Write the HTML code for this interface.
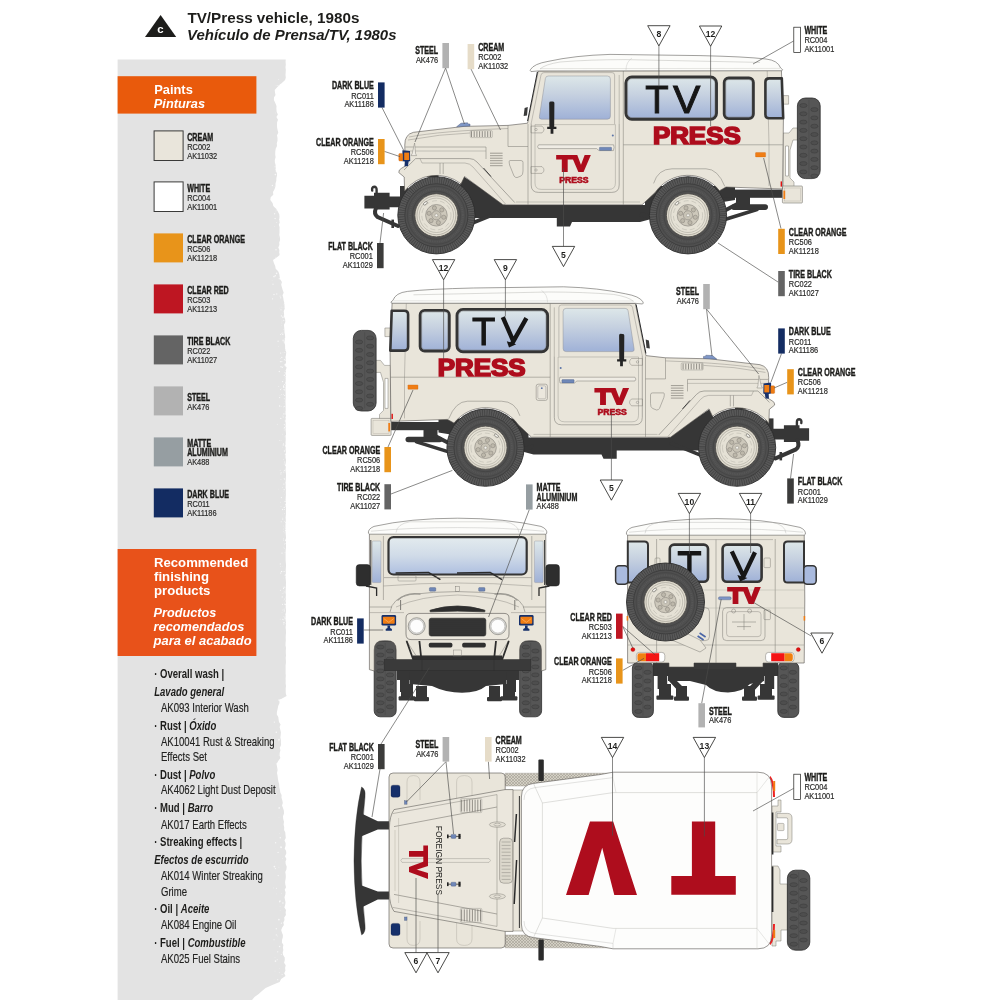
<!DOCTYPE html>
<html><head><meta charset="utf-8"><title>TV/Press vehicle, 1980s</title>
<style>html,body{margin:0;padding:0;background:#fff;}svg{display:block;will-change:transform;}text{font-family:"Liberation Sans", sans-serif;}</style></head><body>
<svg width="1000" height="1000" viewBox="0 0 1000 1000">
<defs>
<linearGradient id="glass" x1="0" y1="0" x2="0" y2="1"><stop offset="0" stop-color="#dde7e9"/><stop offset="0.42" stop-color="#c6d1e0"/><stop offset="1" stop-color="#9fb1d7"/></linearGradient>
<pattern id="tread" width="3" height="3" patternUnits="userSpaceOnUse"><rect width="3" height="3" fill="#d3cfc4"/><path d="M0,0 L3,3 M3,0 L0,3" stroke="#9a968c" stroke-width="0.5"/></pattern>
<pattern id="mesh" width="2" height="2" patternUnits="userSpaceOnUse"><rect width="2" height="2" fill="#2e2e2e"/><circle cx="1" cy="1" r="0.5" fill="#4a4a4a"/></pattern>
<linearGradient id="glassw" x1="0" y1="0" x2="0" y2="1"><stop offset="0" stop-color="#e3ebee"/><stop offset="0.5" stop-color="#d0dbe8"/><stop offset="1" stop-color="#aebfe0"/></linearGradient>
</defs>
<rect width="1000" height="1000" fill="#fff"/>
<path d="M117.6,59.5 L286,59.5 L285.7,59.5 L285.6,62.1 L285.8,64.6 L285.5,67.2 L285.8,69.8 L285.7,72.3 L285.5,74.9 L285.8,77.4 L285.1,80.0 L280.8,84.0 L277.4,87.0 L274.7,90.0 L275.0,92.5 L275.5,95.0 L274.0,97.5 L273.9,100.0 L275.3,103.0 L276.5,106.0 L276.4,109.0 L276.7,112.0 L277.9,114.6 L276.4,117.1 L278.0,119.7 L277.1,122.3 L277.0,124.9 L277.1,127.4 L277.6,130.0 L278.3,132.7 L277.0,135.3 L277.5,138.0 L277.5,140.7 L276.8,143.3 L277.0,146.0 L275.7,148.8 L275.3,151.6 L275.2,154.4 L275.6,157.2 L274.8,160.0 L274.9,162.6 L275.6,165.1 L275.7,167.7 L275.7,170.3 L276.9,172.9 L277.0,175.4 L276.4,178.0 L276.3,180.8 L275.5,183.6 L275.5,186.4 L274.5,189.2 L273.0,192.0 L273.3,194.7 L270.7,197.3 L270.3,200.0 L272.6,203.0 L273.3,206.0 L276.4,209.0 L278.1,212.0 L279.3,214.6 L279.5,217.1 L279.2,219.7 L279.8,222.2 L278.8,224.8 L279.6,227.3 L279.5,229.9 L279.5,232.4 L279.3,235.0 L279.9,237.5 L280.1,240.0 L279.2,242.5 L279.4,245.0 L278.3,247.5 L279.4,250.0 L279.2,252.5 L279.8,255.0 L276.7,257.5 L273.0,260.0 L273.9,263.0 L275.2,266.0 L275.7,268.7 L278.2,271.3 L279.3,274.0 L279.7,276.7 L280.1,279.3 L281.9,282.0 L281.2,284.7 L281.9,287.3 L282.7,290.0 L283.7,292.7 L282.5,295.3 L283.3,298.0 L283.7,300.7 L284.4,303.3 L284.5,306.0 L284.7,308.7 L283.7,311.3 L284.1,314.0 L284.1,316.7 L285.1,319.3 L285.4,322.0 L284.0,324.7 L284.2,327.3 L284.4,330.0 L284.5,332.5 L285.0,335.0 L285.2,337.5 L284.7,340.0 L284.3,342.5 L285.1,345.0 L285.1,347.5 L285.5,350.0 L286.3,352.5 L285.9,355.0 L285.6,357.5 L285.9,360.0 L286.0,362.5 L285.0,365.0 L286.6,367.5 L285.9,370.0 L285.9,372.5 L285.9,375.0 L285.7,377.5 L285.7,380.0 L285.6,382.5 L285.8,385.0 L285.5,387.5 L285.5,390.0 L285.6,392.5 L285.6,395.0 L285.7,397.5 L285.5,400.0 L285.5,402.5 L285.6,405.0 L285.6,407.5 L285.7,410.0 L285.5,412.5 L285.9,415.0 L285.8,417.5 L285.6,420.0 L285.6,422.5 L285.7,425.0 L285.7,427.5 L285.6,430.0 L285.9,432.5 L286.0,435.0 L285.7,437.5 L285.7,440.0 L285.5,442.5 L285.6,445.0 L285.7,447.5 L285.6,450.0 L285.9,452.5 L285.6,455.0 L285.5,457.5 L286.0,460.0 L285.8,462.5 L285.6,465.0 L285.8,467.5 L285.5,470.0 L285.8,472.5 L286.0,475.0 L285.9,477.5 L285.8,480.0 L285.6,482.5 L285.7,485.0 L285.6,487.5 L285.9,490.0 L285.8,492.5 L285.9,495.0 L285.7,497.5 L285.6,500.0 L285.9,502.5 L286.0,505.0 L285.9,507.5 L285.9,510.0 L285.9,512.5 L285.9,515.0 L285.6,517.5 L285.8,520.0 L285.7,522.5 L285.5,525.0 L285.5,527.5 L285.6,530.0 L285.6,532.5 L285.8,535.0 L286.0,537.5 L285.7,540.0 L286.0,542.5 L286.0,545.0 L286.0,547.5 L285.7,550.0 L285.6,552.5 L285.6,555.0 L285.6,557.5 L285.6,560.0 L285.8,562.5 L286.0,565.0 L285.9,567.5 L285.7,570.0 L285.8,572.5 L285.9,575.0 L285.5,577.5 L285.8,580.0 L286.0,582.5 L285.9,585.0 L285.9,587.5 L285.7,590.0 L285.6,592.5 L285.9,595.0 L285.7,597.5 L285.9,600.0 L286.0,602.5 L285.7,605.0 L285.7,607.5 L286.0,610.0 L285.9,612.5 L285.6,615.0 L285.6,617.5 L285.6,620.0 L286.0,622.5 L285.9,625.1 L285.6,627.6 L285.9,630.1 L286.0,632.7 L285.8,635.2 L285.7,637.7 L285.8,640.3 L285.6,642.8 L285.5,645.3 L286.0,647.9 L285.8,650.4 L285.8,652.9 L286.0,655.5 L285.7,658.0 L285.9,660.5 L285.9,663.1 L285.6,665.6 L285.6,668.1 L285.6,670.7 L285.6,673.2 L285.8,675.7 L285.6,678.3 L285.7,680.8 L285.6,683.3 L286.0,685.9 L285.7,688.4 L285.7,690.9 L285.8,693.5 L286.6,696.0 L279.3,700.0 L279.5,703.0 L278.2,706.0 L277.6,709.0 L276.9,712.0 L276.8,714.5 L278.3,717.0 L278.6,719.5 L279.0,722.0 L280.6,724.6 L279.6,727.1 L280.3,729.7 L280.9,732.3 L280.7,734.9 L280.4,737.4 L280.9,740.0 L280.9,742.6 L281.1,745.1 L279.8,747.7 L280.4,750.3 L279.7,752.9 L279.6,755.4 L280.4,758.0 L278.2,761.0 L276.5,764.0 L277.1,767.0 L277.6,770.0 L277.0,773.0 L277.6,776.0 L277.9,778.8 L278.4,781.6 L279.2,784.4 L279.3,787.2 L280.0,790.0 L280.3,792.6 L281.6,795.1 L281.5,797.7 L282.3,800.3 L282.8,802.9 L282.0,805.4 L283.0,808.0 L283.9,810.8 L284.0,813.5 L283.0,816.2 L283.2,819.0 L284.0,821.8 L283.6,824.5 L284.2,827.2 L284.1,830.0 L285.3,832.6 L285.5,835.2 L285.8,837.9 L284.5,840.5 L285.6,843.1 L285.6,845.8 L284.7,848.4 L286.1,851.0 L286.3,853.6 L285.0,856.2 L286.4,858.9 L285.5,861.5 L285.7,864.1 L286.7,866.8 L286.4,869.4 L285.3,872.0 L285.7,874.5 L285.8,877.1 L285.5,879.6 L285.1,882.1 L285.3,884.6 L286.0,887.2 L284.7,889.7 L285.6,892.2 L285.3,894.7 L284.5,897.3 L285.0,899.8 L285.5,902.3 L285.2,904.8 L284.4,907.4 L286.0,909.9 L285.6,912.4 L285.9,914.9 L284.2,917.5 L284.5,920.0 L283.3,922.5 L283.9,925.0 L282.2,927.5 L281.2,930.0 L281.9,932.5 L282.9,935.0 L282.8,937.5 L282.0,940.0 L281.9,942.5 L283.4,945.0 L282.9,947.5 L283.3,950.0 L282.7,952.5 L283.1,955.0 L284.7,957.5 L284.8,960.0 L284.1,962.7 L285.7,965.3 L285.1,968.0 L285.4,970.7 L284.2,973.3 L285.5,976.0 L281.1,979.0 L279.6,982.0 L272.3,985.0 L265.6,988.0 L262.0,991.0 L258.7,994.0 L254.5,997.0 L252.0,1000.0 L117.6,1000 Z" fill="#e3e3e3"/>
<circle cx="283.7" cy="342.0" r="0.30" fill="#fff" opacity="0.75"/>
<circle cx="285.6" cy="352.5" r="0.27" fill="#fff" opacity="0.75"/>
<circle cx="285.0" cy="365.6" r="0.59" fill="#fff" opacity="0.75"/>
<circle cx="283.5" cy="394.2" r="0.48" fill="#fff" opacity="0.75"/>
<circle cx="285.6" cy="357.8" r="0.36" fill="#fff" opacity="0.75"/>
<circle cx="285.5" cy="305.0" r="0.58" fill="#fff" opacity="0.75"/>
<circle cx="284.7" cy="479.1" r="0.67" fill="#fff" opacity="0.75"/>
<circle cx="282.6" cy="334.5" r="0.62" fill="#fff" opacity="0.75"/>
<circle cx="279.9" cy="440.5" r="0.43" fill="#fff" opacity="0.75"/>
<circle cx="285.8" cy="464.7" r="0.56" fill="#fff" opacity="0.75"/>
<circle cx="282.7" cy="619.3" r="0.57" fill="#fff" opacity="0.75"/>
<circle cx="281.0" cy="506.7" r="0.43" fill="#fff" opacity="0.75"/>
<circle cx="284.4" cy="413.0" r="0.28" fill="#fff" opacity="0.75"/>
<circle cx="285.4" cy="540.8" r="0.37" fill="#fff" opacity="0.75"/>
<circle cx="280.7" cy="353.1" r="0.64" fill="#fff" opacity="0.75"/>
<circle cx="282.9" cy="517.9" r="0.38" fill="#fff" opacity="0.75"/>
<circle cx="285.1" cy="378.7" r="0.32" fill="#fff" opacity="0.75"/>
<circle cx="282.6" cy="444.9" r="0.37" fill="#fff" opacity="0.75"/>
<circle cx="282.0" cy="612.6" r="0.36" fill="#fff" opacity="0.75"/>
<circle cx="285.3" cy="613.8" r="0.39" fill="#fff" opacity="0.75"/>
<circle cx="282.9" cy="415.9" r="0.46" fill="#fff" opacity="0.75"/>
<circle cx="286.0" cy="463.4" r="0.34" fill="#fff" opacity="0.75"/>
<circle cx="283.5" cy="464.0" r="0.29" fill="#fff" opacity="0.75"/>
<circle cx="285.9" cy="429.8" r="0.27" fill="#fff" opacity="0.75"/>
<circle cx="285.2" cy="307.3" r="0.51" fill="#fff" opacity="0.75"/>
<circle cx="283.8" cy="472.0" r="0.59" fill="#fff" opacity="0.75"/>
<circle cx="284.6" cy="513.7" r="0.43" fill="#fff" opacity="0.75"/>
<circle cx="279.6" cy="406.0" r="0.69" fill="#fff" opacity="0.75"/>
<circle cx="285.3" cy="348.6" r="0.27" fill="#fff" opacity="0.75"/>
<circle cx="281.5" cy="571.5" r="0.65" fill="#fff" opacity="0.75"/>
<circle cx="285.4" cy="503.9" r="0.31" fill="#fff" opacity="0.75"/>
<circle cx="280.2" cy="470.2" r="0.48" fill="#fff" opacity="0.75"/>
<circle cx="284.0" cy="571.4" r="0.51" fill="#fff" opacity="0.75"/>
<circle cx="280.4" cy="590.2" r="0.56" fill="#fff" opacity="0.75"/>
<circle cx="285.9" cy="525.3" r="0.31" fill="#fff" opacity="0.75"/>
<circle cx="285.2" cy="417.2" r="0.30" fill="#fff" opacity="0.75"/>
<circle cx="281.8" cy="571.6" r="0.53" fill="#fff" opacity="0.75"/>
<circle cx="284.4" cy="521.2" r="0.47" fill="#fff" opacity="0.75"/>
<circle cx="284.4" cy="301.1" r="0.48" fill="#fff" opacity="0.75"/>
<circle cx="280.9" cy="473.9" r="0.55" fill="#fff" opacity="0.75"/>
<circle cx="285.8" cy="321.5" r="0.28" fill="#fff" opacity="0.75"/>
<circle cx="283.6" cy="386.3" r="0.58" fill="#fff" opacity="0.75"/>
<circle cx="285.4" cy="366.7" r="0.47" fill="#fff" opacity="0.75"/>
<circle cx="277.3" cy="424.3" r="0.47" fill="#fff" opacity="0.75"/>
<circle cx="285.5" cy="522.2" r="0.54" fill="#fff" opacity="0.75"/>
<circle cx="281.6" cy="325.2" r="0.32" fill="#fff" opacity="0.75"/>
<circle cx="285.9" cy="382.5" r="0.51" fill="#fff" opacity="0.75"/>
<circle cx="283.3" cy="304.1" r="0.28" fill="#fff" opacity="0.75"/>
<circle cx="283.7" cy="387.4" r="0.55" fill="#fff" opacity="0.75"/>
<circle cx="281.7" cy="394.5" r="0.48" fill="#fff" opacity="0.75"/>
<circle cx="284.4" cy="451.0" r="0.65" fill="#fff" opacity="0.75"/>
<circle cx="285.7" cy="364.8" r="0.69" fill="#fff" opacity="0.75"/>
<circle cx="282.5" cy="604.3" r="0.62" fill="#fff" opacity="0.75"/>
<circle cx="285.6" cy="614.6" r="0.45" fill="#fff" opacity="0.75"/>
<circle cx="284.1" cy="387.3" r="0.34" fill="#fff" opacity="0.75"/>
<circle cx="278.5" cy="489.0" r="0.31" fill="#fff" opacity="0.75"/>
<circle cx="284.4" cy="470.3" r="0.62" fill="#fff" opacity="0.75"/>
<circle cx="285.5" cy="465.3" r="0.65" fill="#fff" opacity="0.75"/>
<circle cx="285.2" cy="528.6" r="0.47" fill="#fff" opacity="0.75"/>
<circle cx="279.2" cy="308.1" r="0.25" fill="#fff" opacity="0.75"/>
<circle cx="283.4" cy="459.8" r="0.31" fill="#fff" opacity="0.75"/>
<circle cx="285.2" cy="411.8" r="0.39" fill="#fff" opacity="0.75"/>
<circle cx="280.7" cy="573.1" r="0.63" fill="#fff" opacity="0.75"/>
<circle cx="285.9" cy="339.0" r="0.67" fill="#fff" opacity="0.75"/>
<circle cx="283.8" cy="531.7" r="0.42" fill="#fff" opacity="0.75"/>
<circle cx="284.5" cy="427.7" r="0.70" fill="#fff" opacity="0.75"/>
<circle cx="283.8" cy="491.5" r="0.37" fill="#fff" opacity="0.75"/>
<circle cx="283.4" cy="315.7" r="0.30" fill="#fff" opacity="0.75"/>
<circle cx="284.3" cy="571.3" r="0.36" fill="#fff" opacity="0.75"/>
<circle cx="278.7" cy="386.4" r="0.48" fill="#fff" opacity="0.75"/>
<circle cx="280.4" cy="361.7" r="0.65" fill="#fff" opacity="0.75"/>
<circle cx="280.3" cy="563.9" r="0.53" fill="#fff" opacity="0.75"/>
<circle cx="282.2" cy="596.9" r="0.57" fill="#fff" opacity="0.75"/>
<circle cx="284.5" cy="316.1" r="0.58" fill="#fff" opacity="0.75"/>
<circle cx="285.9" cy="446.5" r="0.38" fill="#fff" opacity="0.75"/>
<circle cx="281.4" cy="315.9" r="0.67" fill="#fff" opacity="0.75"/>
<circle cx="283.1" cy="341.4" r="0.38" fill="#fff" opacity="0.75"/>
<circle cx="285.5" cy="540.2" r="0.69" fill="#fff" opacity="0.75"/>
<circle cx="284.5" cy="384.6" r="0.50" fill="#fff" opacity="0.75"/>
<circle cx="283.8" cy="428.2" r="0.33" fill="#fff" opacity="0.75"/>
<circle cx="284.2" cy="352.5" r="0.47" fill="#fff" opacity="0.75"/>
<circle cx="279.3" cy="371.5" r="0.66" fill="#fff" opacity="0.75"/>
<circle cx="284.3" cy="623.9" r="0.34" fill="#fff" opacity="0.75"/>
<circle cx="285.5" cy="329.5" r="0.40" fill="#fff" opacity="0.75"/>
<circle cx="285.8" cy="329.6" r="0.51" fill="#fff" opacity="0.75"/>
<circle cx="283.5" cy="588.4" r="0.59" fill="#fff" opacity="0.75"/>
<circle cx="282.7" cy="434.2" r="0.42" fill="#fff" opacity="0.75"/>
<circle cx="284.0" cy="409.9" r="0.28" fill="#fff" opacity="0.75"/>
<circle cx="284.4" cy="390.2" r="0.48" fill="#fff" opacity="0.75"/>
<circle cx="285.7" cy="504.6" r="0.64" fill="#fff" opacity="0.75"/>
<circle cx="285.7" cy="370.2" r="0.43" fill="#fff" opacity="0.75"/>
<circle cx="283.6" cy="444.9" r="0.68" fill="#fff" opacity="0.75"/>
<circle cx="285.5" cy="575.8" r="0.26" fill="#fff" opacity="0.75"/>
<circle cx="285.5" cy="530.6" r="0.65" fill="#fff" opacity="0.75"/>
<circle cx="285.9" cy="453.8" r="0.43" fill="#fff" opacity="0.75"/>
<circle cx="286.0" cy="601.2" r="0.62" fill="#fff" opacity="0.75"/>
<circle cx="283.6" cy="578.0" r="0.30" fill="#fff" opacity="0.75"/>
<circle cx="285.6" cy="350.2" r="0.49" fill="#fff" opacity="0.75"/>
<circle cx="281.2" cy="521.7" r="0.54" fill="#fff" opacity="0.75"/>
<circle cx="284.2" cy="548.6" r="0.46" fill="#fff" opacity="0.75"/>
<circle cx="280.6" cy="479.2" r="0.35" fill="#fff" opacity="0.75"/>
<circle cx="284.6" cy="599.0" r="0.54" fill="#fff" opacity="0.75"/>
<circle cx="284.3" cy="398.7" r="0.54" fill="#fff" opacity="0.75"/>
<circle cx="284.2" cy="527.0" r="0.30" fill="#fff" opacity="0.75"/>
<circle cx="281.8" cy="322.9" r="0.42" fill="#fff" opacity="0.75"/>
<circle cx="285.4" cy="372.7" r="0.52" fill="#fff" opacity="0.75"/>
<circle cx="284.9" cy="303.4" r="0.68" fill="#fff" opacity="0.75"/>
<circle cx="282.6" cy="509.5" r="0.65" fill="#fff" opacity="0.75"/>
<circle cx="285.8" cy="454.5" r="0.68" fill="#fff" opacity="0.75"/>
<circle cx="283.6" cy="529.0" r="0.39" fill="#fff" opacity="0.75"/>
<circle cx="281.2" cy="307.1" r="0.44" fill="#fff" opacity="0.75"/>
<circle cx="285.9" cy="383.6" r="0.55" fill="#fff" opacity="0.75"/>
<circle cx="285.9" cy="600.7" r="0.40" fill="#fff" opacity="0.75"/>
<circle cx="285.2" cy="436.7" r="0.56" fill="#fff" opacity="0.75"/>
<circle cx="284.5" cy="364.4" r="0.48" fill="#fff" opacity="0.75"/>
<circle cx="281.0" cy="366.7" r="0.69" fill="#fff" opacity="0.75"/>
<circle cx="285.0" cy="401.3" r="0.35" fill="#fff" opacity="0.75"/>
<circle cx="283.9" cy="547.2" r="0.38" fill="#fff" opacity="0.75"/>
<circle cx="283.9" cy="609.4" r="0.35" fill="#fff" opacity="0.75"/>
<circle cx="285.9" cy="435.5" r="0.55" fill="#fff" opacity="0.75"/>
<circle cx="284.1" cy="608.3" r="0.35" fill="#fff" opacity="0.75"/>
<circle cx="283.5" cy="616.6" r="0.31" fill="#fff" opacity="0.75"/>
<circle cx="283.0" cy="316.8" r="0.65" fill="#fff" opacity="0.75"/>
<circle cx="284.8" cy="587.2" r="0.58" fill="#fff" opacity="0.75"/>
<circle cx="283.4" cy="624.2" r="0.33" fill="#fff" opacity="0.75"/>
<circle cx="284.8" cy="604.2" r="0.59" fill="#fff" opacity="0.75"/>
<circle cx="284.4" cy="310.4" r="0.42" fill="#fff" opacity="0.75"/>
<circle cx="283.3" cy="407.8" r="0.33" fill="#fff" opacity="0.75"/>
<circle cx="285.4" cy="300.9" r="0.68" fill="#fff" opacity="0.75"/>
<circle cx="283.1" cy="340.2" r="0.68" fill="#fff" opacity="0.75"/>
<circle cx="282.3" cy="367.4" r="0.62" fill="#fff" opacity="0.75"/>
<circle cx="281.3" cy="440.5" r="0.27" fill="#fff" opacity="0.75"/>
<circle cx="281.0" cy="453.9" r="0.34" fill="#fff" opacity="0.75"/>
<circle cx="280.8" cy="418.4" r="0.65" fill="#fff" opacity="0.75"/>
<circle cx="281.0" cy="309.8" r="0.60" fill="#fff" opacity="0.75"/>
<circle cx="282.9" cy="313.2" r="0.27" fill="#fff" opacity="0.75"/>
<circle cx="283.8" cy="320.3" r="0.59" fill="#fff" opacity="0.75"/>
<circle cx="284.8" cy="592.0" r="0.40" fill="#fff" opacity="0.75"/>
<circle cx="281.7" cy="388.5" r="0.37" fill="#fff" opacity="0.75"/>
<circle cx="284.8" cy="532.9" r="0.39" fill="#fff" opacity="0.75"/>
<circle cx="280.6" cy="389.6" r="0.66" fill="#fff" opacity="0.75"/>
<circle cx="285.9" cy="506.0" r="0.67" fill="#fff" opacity="0.75"/>
<circle cx="285.6" cy="307.9" r="0.68" fill="#fff" opacity="0.75"/>
<circle cx="282.4" cy="610.0" r="0.42" fill="#fff" opacity="0.75"/>
<circle cx="282.6" cy="381.6" r="0.67" fill="#fff" opacity="0.75"/>
<circle cx="284.4" cy="359.5" r="0.61" fill="#fff" opacity="0.75"/>
<circle cx="283.6" cy="540.0" r="0.52" fill="#fff" opacity="0.75"/>
<circle cx="281.1" cy="406.5" r="0.39" fill="#fff" opacity="0.75"/>
<circle cx="285.7" cy="417.6" r="0.34" fill="#fff" opacity="0.75"/>
<circle cx="284.7" cy="544.7" r="0.36" fill="#fff" opacity="0.75"/>
<circle cx="282.0" cy="321.0" r="0.40" fill="#fff" opacity="0.75"/>
<circle cx="285.1" cy="618.6" r="0.65" fill="#fff" opacity="0.75"/>
<circle cx="285.9" cy="621.0" r="0.29" fill="#fff" opacity="0.75"/>
<circle cx="284.7" cy="462.0" r="0.57" fill="#fff" opacity="0.75"/>
<circle cx="285.7" cy="445.3" r="0.53" fill="#fff" opacity="0.75"/>
<circle cx="282.7" cy="519.1" r="0.59" fill="#fff" opacity="0.75"/>
<circle cx="285.2" cy="575.3" r="0.63" fill="#fff" opacity="0.75"/>
<circle cx="284.6" cy="395.5" r="0.51" fill="#fff" opacity="0.75"/>
<circle cx="285.8" cy="421.2" r="0.36" fill="#fff" opacity="0.75"/>
<circle cx="283.9" cy="379.7" r="0.32" fill="#fff" opacity="0.75"/>
<circle cx="283.5" cy="587.4" r="0.43" fill="#fff" opacity="0.75"/>
<circle cx="284.7" cy="622.5" r="0.48" fill="#fff" opacity="0.75"/>
<circle cx="284.3" cy="375.2" r="0.70" fill="#fff" opacity="0.75"/>
<circle cx="281.7" cy="333.3" r="0.46" fill="#fff" opacity="0.75"/>
<circle cx="282.2" cy="566.2" r="0.27" fill="#fff" opacity="0.75"/>
<circle cx="280.0" cy="395.4" r="0.30" fill="#fff" opacity="0.75"/>
<circle cx="281.8" cy="361.6" r="0.67" fill="#fff" opacity="0.75"/>
<circle cx="285.3" cy="421.0" r="0.64" fill="#fff" opacity="0.75"/>
<circle cx="285.7" cy="446.0" r="0.68" fill="#fff" opacity="0.75"/>
<circle cx="280.5" cy="334.4" r="0.52" fill="#fff" opacity="0.75"/>
<circle cx="285.4" cy="501.5" r="0.31" fill="#fff" opacity="0.75"/>
<circle cx="283.0" cy="366.3" r="0.36" fill="#fff" opacity="0.75"/>
<circle cx="284.7" cy="494.8" r="0.26" fill="#fff" opacity="0.75"/>
<circle cx="284.2" cy="406.4" r="0.56" fill="#fff" opacity="0.75"/>
<circle cx="285.2" cy="360.2" r="0.61" fill="#fff" opacity="0.75"/>
<circle cx="284.0" cy="478.1" r="0.28" fill="#fff" opacity="0.75"/>
<circle cx="282.8" cy="333.0" r="0.54" fill="#fff" opacity="0.75"/>
<circle cx="283.5" cy="329.6" r="0.32" fill="#fff" opacity="0.75"/>
<circle cx="283.8" cy="526.0" r="0.39" fill="#fff" opacity="0.75"/>
<circle cx="284.6" cy="609.8" r="0.39" fill="#fff" opacity="0.75"/>
<circle cx="283.9" cy="484.1" r="0.64" fill="#fff" opacity="0.75"/>
<circle cx="283.4" cy="623.9" r="0.41" fill="#fff" opacity="0.75"/>
<circle cx="285.7" cy="364.1" r="0.25" fill="#fff" opacity="0.75"/>
<circle cx="283.9" cy="593.0" r="0.44" fill="#fff" opacity="0.75"/>
<circle cx="280.5" cy="566.6" r="0.46" fill="#fff" opacity="0.75"/>
<circle cx="282.3" cy="352.8" r="0.26" fill="#fff" opacity="0.75"/>
<circle cx="281.5" cy="479.3" r="0.29" fill="#fff" opacity="0.75"/>
<circle cx="280.6" cy="502.2" r="0.42" fill="#fff" opacity="0.75"/>
<circle cx="284.4" cy="464.0" r="0.48" fill="#fff" opacity="0.75"/>
<circle cx="283.9" cy="600.8" r="0.30" fill="#fff" opacity="0.75"/>
<circle cx="283.2" cy="459.4" r="0.34" fill="#fff" opacity="0.75"/>
<circle cx="278.1" cy="341.2" r="0.67" fill="#fff" opacity="0.75"/>
<circle cx="284.9" cy="617.1" r="0.67" fill="#fff" opacity="0.75"/>
<circle cx="285.9" cy="426.1" r="0.66" fill="#fff" opacity="0.75"/>
<circle cx="285.1" cy="501.6" r="0.60" fill="#fff" opacity="0.75"/>
<circle cx="284.3" cy="372.2" r="0.43" fill="#fff" opacity="0.75"/>
<circle cx="285.0" cy="575.1" r="0.35" fill="#fff" opacity="0.75"/>
<circle cx="284.2" cy="429.9" r="0.48" fill="#fff" opacity="0.75"/>
<circle cx="284.3" cy="424.7" r="0.58" fill="#fff" opacity="0.75"/>
<circle cx="284.3" cy="591.6" r="0.27" fill="#fff" opacity="0.75"/>
<circle cx="286.0" cy="482.8" r="0.63" fill="#fff" opacity="0.75"/>
<circle cx="285.1" cy="338.3" r="0.52" fill="#fff" opacity="0.75"/>
<circle cx="284.1" cy="478.8" r="0.44" fill="#fff" opacity="0.75"/>
<circle cx="284.0" cy="489.4" r="0.44" fill="#fff" opacity="0.75"/>
<circle cx="282.8" cy="514.1" r="0.26" fill="#fff" opacity="0.75"/>
<circle cx="284.9" cy="501.1" r="0.47" fill="#fff" opacity="0.75"/>
<circle cx="285.5" cy="376.5" r="0.46" fill="#fff" opacity="0.75"/>
<circle cx="280.5" cy="358.4" r="0.46" fill="#fff" opacity="0.75"/>
<circle cx="283.7" cy="334.8" r="0.29" fill="#fff" opacity="0.75"/>
<circle cx="283.5" cy="443.6" r="0.48" fill="#fff" opacity="0.75"/>
<circle cx="285.1" cy="313.2" r="0.58" fill="#fff" opacity="0.75"/>
<circle cx="285.0" cy="552.7" r="0.48" fill="#fff" opacity="0.75"/>
<circle cx="282.9" cy="317.6" r="0.68" fill="#fff" opacity="0.75"/>
<circle cx="285.9" cy="344.3" r="0.64" fill="#fff" opacity="0.75"/>
<circle cx="285.3" cy="623.7" r="0.34" fill="#fff" opacity="0.75"/>
<circle cx="280.2" cy="619.1" r="0.47" fill="#fff" opacity="0.75"/>
<circle cx="284.3" cy="610.9" r="0.60" fill="#fff" opacity="0.75"/>
<circle cx="285.0" cy="602.4" r="0.28" fill="#fff" opacity="0.75"/>
<circle cx="285.9" cy="414.0" r="0.65" fill="#fff" opacity="0.75"/>
<circle cx="284.1" cy="389.4" r="0.62" fill="#fff" opacity="0.75"/>
<circle cx="278.8" cy="346.7" r="0.34" fill="#fff" opacity="0.75"/>
<circle cx="285.9" cy="385.4" r="0.48" fill="#fff" opacity="0.75"/>
<circle cx="284.0" cy="403.7" r="0.32" fill="#fff" opacity="0.75"/>
<circle cx="285.5" cy="604.3" r="0.56" fill="#fff" opacity="0.75"/>
<circle cx="283.3" cy="591.0" r="0.30" fill="#fff" opacity="0.75"/>
<circle cx="281.1" cy="472.5" r="0.54" fill="#fff" opacity="0.75"/>
<circle cx="283.2" cy="416.9" r="0.51" fill="#fff" opacity="0.75"/>
<circle cx="283.1" cy="586.8" r="0.30" fill="#fff" opacity="0.75"/>
<circle cx="283.8" cy="622.7" r="0.61" fill="#fff" opacity="0.75"/>
<circle cx="283.7" cy="386.0" r="0.70" fill="#fff" opacity="0.75"/>
<circle cx="282.5" cy="487.6" r="0.45" fill="#fff" opacity="0.75"/>
<circle cx="281.8" cy="357.4" r="0.58" fill="#fff" opacity="0.75"/>
<circle cx="285.0" cy="315.7" r="0.54" fill="#fff" opacity="0.75"/>
<circle cx="283.8" cy="619.8" r="0.51" fill="#fff" opacity="0.75"/>
<circle cx="285.9" cy="515.7" r="0.27" fill="#fff" opacity="0.75"/>
<circle cx="285.8" cy="348.5" r="0.53" fill="#fff" opacity="0.75"/>
<circle cx="279.2" cy="440.5" r="0.31" fill="#fff" opacity="0.75"/>
<circle cx="285.5" cy="373.9" r="0.54" fill="#fff" opacity="0.75"/>
<circle cx="283.0" cy="307.2" r="0.30" fill="#fff" opacity="0.75"/>
<circle cx="286.0" cy="416.1" r="0.35" fill="#fff" opacity="0.75"/>
<circle cx="284.2" cy="489.7" r="0.53" fill="#fff" opacity="0.75"/>
<circle cx="284.9" cy="454.3" r="0.31" fill="#fff" opacity="0.75"/>
<circle cx="285.9" cy="604.4" r="0.29" fill="#fff" opacity="0.75"/>
<circle cx="284.2" cy="507.4" r="0.64" fill="#fff" opacity="0.75"/>
<circle cx="284.0" cy="554.2" r="0.26" fill="#fff" opacity="0.75"/>
<circle cx="284.6" cy="509.6" r="0.50" fill="#fff" opacity="0.75"/>
<circle cx="283.9" cy="413.9" r="0.67" fill="#fff" opacity="0.75"/>
<circle cx="283.3" cy="538.4" r="0.36" fill="#fff" opacity="0.75"/>
<circle cx="282.2" cy="593.6" r="0.43" fill="#fff" opacity="0.75"/>
<circle cx="284.9" cy="377.2" r="0.28" fill="#fff" opacity="0.75"/>
<circle cx="282.0" cy="553.1" r="0.67" fill="#fff" opacity="0.75"/>
<circle cx="285.7" cy="346.2" r="0.34" fill="#fff" opacity="0.75"/>
<circle cx="281.4" cy="497.6" r="0.62" fill="#fff" opacity="0.75"/>
<circle cx="285.8" cy="356.8" r="0.39" fill="#fff" opacity="0.75"/>
<circle cx="279.6" cy="397.6" r="0.60" fill="#fff" opacity="0.75"/>
<circle cx="284.0" cy="532.5" r="0.25" fill="#fff" opacity="0.75"/>
<circle cx="285.9" cy="574.4" r="0.58" fill="#fff" opacity="0.75"/>
<circle cx="282.4" cy="447.1" r="0.35" fill="#fff" opacity="0.75"/>
<circle cx="285.9" cy="334.2" r="0.40" fill="#fff" opacity="0.75"/>
<circle cx="285.1" cy="543.6" r="0.56" fill="#fff" opacity="0.75"/>
<circle cx="279.6" cy="901.7" r="0.71" fill="#fff" opacity="0.7"/>
<circle cx="275.5" cy="961.1" r="0.86" fill="#fff" opacity="0.7"/>
<circle cx="274.0" cy="276.5" r="0.84" fill="#fff" opacity="0.7"/>
<circle cx="281.0" cy="264.9" r="0.50" fill="#fff" opacity="0.7"/>
<circle cx="276.6" cy="273.4" r="0.81" fill="#fff" opacity="0.7"/>
<circle cx="277.7" cy="979.7" r="0.62" fill="#fff" opacity="0.7"/>
<circle cx="278.8" cy="79.4" r="0.48" fill="#fff" opacity="0.7"/>
<circle cx="278.8" cy="125.1" r="0.40" fill="#fff" opacity="0.7"/>
<circle cx="276.1" cy="85.3" r="0.39" fill="#fff" opacity="0.7"/>
<circle cx="280.4" cy="84.4" r="0.74" fill="#fff" opacity="0.7"/>
<circle cx="274.4" cy="866.6" r="0.87" fill="#fff" opacity="0.7"/>
<circle cx="273.3" cy="887.9" r="0.42" fill="#fff" opacity="0.7"/>
<circle cx="281.9" cy="102.9" r="0.68" fill="#fff" opacity="0.7"/>
<circle cx="281.5" cy="141.8" r="0.69" fill="#fff" opacity="0.7"/>
<circle cx="272.3" cy="793.3" r="0.45" fill="#fff" opacity="0.7"/>
<circle cx="282.9" cy="902.9" r="0.76" fill="#fff" opacity="0.7"/>
<circle cx="279.4" cy="833.6" r="0.32" fill="#fff" opacity="0.7"/>
<circle cx="276.2" cy="169.7" r="0.72" fill="#fff" opacity="0.7"/>
<circle cx="278.9" cy="197.4" r="0.47" fill="#fff" opacity="0.7"/>
<circle cx="281.1" cy="847.3" r="0.89" fill="#fff" opacity="0.7"/>
<circle cx="280.3" cy="837.8" r="0.80" fill="#fff" opacity="0.7"/>
<circle cx="278.9" cy="867.2" r="0.40" fill="#fff" opacity="0.7"/>
<circle cx="278.0" cy="259.0" r="0.37" fill="#fff" opacity="0.7"/>
<circle cx="279.5" cy="219.3" r="0.51" fill="#fff" opacity="0.7"/>
<circle cx="277.1" cy="167.1" r="0.69" fill="#fff" opacity="0.7"/>
<circle cx="282.8" cy="783.6" r="0.60" fill="#fff" opacity="0.7"/>
<circle cx="283.3" cy="162.2" r="0.38" fill="#fff" opacity="0.7"/>
<circle cx="276.2" cy="209.9" r="0.50" fill="#fff" opacity="0.7"/>
<circle cx="274.0" cy="939.7" r="0.56" fill="#fff" opacity="0.7"/>
<circle cx="276.0" cy="249.7" r="0.69" fill="#fff" opacity="0.7"/>
<circle cx="275.6" cy="842.7" r="0.72" fill="#fff" opacity="0.7"/>
<circle cx="283.7" cy="265.3" r="0.73" fill="#fff" opacity="0.7"/>
<circle cx="275.9" cy="211.8" r="0.41" fill="#fff" opacity="0.7"/>
<circle cx="274.0" cy="294.5" r="0.69" fill="#fff" opacity="0.7"/>
<circle cx="281.5" cy="121.4" r="0.74" fill="#fff" opacity="0.7"/>
<circle cx="275.4" cy="174.6" r="0.83" fill="#fff" opacity="0.7"/>
<circle cx="280.3" cy="699.6" r="0.60" fill="#fff" opacity="0.7"/>
<circle cx="275.1" cy="218.4" r="0.74" fill="#fff" opacity="0.7"/>
<circle cx="280.4" cy="766.0" r="0.65" fill="#fff" opacity="0.7"/>
<circle cx="280.2" cy="221.7" r="0.68" fill="#fff" opacity="0.7"/>
<circle cx="282.7" cy="178.8" r="0.45" fill="#fff" opacity="0.7"/>
<circle cx="275.0" cy="166.8" r="0.55" fill="#fff" opacity="0.7"/>
<circle cx="278.2" cy="875.6" r="0.70" fill="#fff" opacity="0.7"/>
<circle cx="281.3" cy="954.5" r="0.53" fill="#fff" opacity="0.7"/>
<circle cx="275.0" cy="186.7" r="0.43" fill="#fff" opacity="0.7"/>
<circle cx="278.2" cy="237.0" r="0.36" fill="#fff" opacity="0.7"/>
<circle cx="278.1" cy="852.4" r="0.68" fill="#fff" opacity="0.7"/>
<circle cx="280.9" cy="846.8" r="0.57" fill="#fff" opacity="0.7"/>
<circle cx="280.7" cy="297.8" r="0.67" fill="#fff" opacity="0.7"/>
<circle cx="276.8" cy="769.0" r="0.31" fill="#fff" opacity="0.7"/>
<circle cx="279.0" cy="817.5" r="0.37" fill="#fff" opacity="0.7"/>
<circle cx="283.9" cy="145.4" r="0.88" fill="#fff" opacity="0.7"/>
<circle cx="281.7" cy="180.6" r="0.68" fill="#fff" opacity="0.7"/>
<circle cx="281.8" cy="182.2" r="0.39" fill="#fff" opacity="0.7"/>
<circle cx="277.6" cy="936.1" r="0.48" fill="#fff" opacity="0.7"/>
<circle cx="276.3" cy="732.2" r="0.81" fill="#fff" opacity="0.7"/>
<circle cx="283.8" cy="804.7" r="0.71" fill="#fff" opacity="0.7"/>
<circle cx="276.3" cy="928.8" r="0.69" fill="#fff" opacity="0.7"/>
<circle cx="279.9" cy="149.1" r="0.52" fill="#fff" opacity="0.7"/>
<circle cx="273.0" cy="284.2" r="0.64" fill="#fff" opacity="0.7"/>
<circle cx="279.6" cy="968.4" r="0.31" fill="#fff" opacity="0.7"/>
<circle cx="275.0" cy="971.1" r="0.36" fill="#fff" opacity="0.7"/>
<circle cx="276.2" cy="763.5" r="0.39" fill="#fff" opacity="0.7"/>
<circle cx="279.3" cy="278.7" r="0.71" fill="#fff" opacity="0.7"/>
<circle cx="274.4" cy="722.1" r="0.72" fill="#fff" opacity="0.7"/>
<circle cx="280.1" cy="910.4" r="0.37" fill="#fff" opacity="0.7"/>
<circle cx="277.7" cy="104.3" r="0.63" fill="#fff" opacity="0.7"/>
<circle cx="275.0" cy="957.7" r="0.40" fill="#fff" opacity="0.7"/>
<circle cx="282.1" cy="211.1" r="0.58" fill="#fff" opacity="0.7"/>
<circle cx="276.5" cy="888.3" r="0.55" fill="#fff" opacity="0.7"/>
<circle cx="279.6" cy="717.8" r="0.32" fill="#fff" opacity="0.7"/>
<circle cx="281.7" cy="893.3" r="0.36" fill="#fff" opacity="0.7"/>
<circle cx="272.4" cy="185.5" r="0.73" fill="#fff" opacity="0.7"/>
<circle cx="276.1" cy="793.9" r="0.77" fill="#fff" opacity="0.7"/>
<circle cx="277.2" cy="959.7" r="0.55" fill="#fff" opacity="0.7"/>
<circle cx="276.3" cy="934.9" r="0.60" fill="#fff" opacity="0.7"/>
<circle cx="283.7" cy="980.5" r="0.69" fill="#fff" opacity="0.7"/>
<circle cx="280.6" cy="791.6" r="0.38" fill="#fff" opacity="0.7"/>
<circle cx="276.8" cy="294.0" r="0.63" fill="#fff" opacity="0.7"/>
<circle cx="275.6" cy="861.9" r="0.30" fill="#fff" opacity="0.7"/>
<circle cx="281.5" cy="120.2" r="0.85" fill="#fff" opacity="0.7"/>
<circle cx="274.6" cy="213.8" r="0.70" fill="#fff" opacity="0.7"/>
<circle cx="280.0" cy="179.6" r="0.82" fill="#fff" opacity="0.7"/>
<circle cx="276.4" cy="171.6" r="0.79" fill="#fff" opacity="0.7"/>
<circle cx="282.3" cy="858.4" r="0.41" fill="#fff" opacity="0.7"/>
<circle cx="278.0" cy="85.6" r="0.61" fill="#fff" opacity="0.7"/>
<circle cx="278.9" cy="919.6" r="0.85" fill="#fff" opacity="0.7"/>
<circle cx="279.1" cy="700.1" r="0.90" fill="#fff" opacity="0.7"/>
<circle cx="278.6" cy="740.9" r="0.35" fill="#fff" opacity="0.7"/>
<circle cx="277.1" cy="182.8" r="0.31" fill="#fff" opacity="0.7"/>
<circle cx="274.6" cy="226.6" r="0.37" fill="#fff" opacity="0.7"/>
<circle cx="277.4" cy="182.9" r="0.75" fill="#fff" opacity="0.7"/>
<circle cx="280.8" cy="282.9" r="0.35" fill="#fff" opacity="0.7"/>
<circle cx="280.0" cy="901.0" r="0.83" fill="#fff" opacity="0.7"/>
<circle cx="272.1" cy="280.8" r="0.31" fill="#fff" opacity="0.7"/>
<circle cx="276.7" cy="222.5" r="0.49" fill="#fff" opacity="0.7"/>
<circle cx="279.3" cy="972.8" r="0.49" fill="#fff" opacity="0.7"/>
<circle cx="280.1" cy="906.3" r="0.39" fill="#fff" opacity="0.7"/>
<circle cx="279.6" cy="255.0" r="0.55" fill="#fff" opacity="0.7"/>
<circle cx="281.4" cy="923.2" r="0.64" fill="#fff" opacity="0.7"/>
<circle cx="282.4" cy="713.5" r="0.74" fill="#fff" opacity="0.7"/>
<circle cx="279.0" cy="739.7" r="0.89" fill="#fff" opacity="0.7"/>
<circle cx="279.2" cy="807.9" r="0.84" fill="#fff" opacity="0.7"/>
<circle cx="275.9" cy="257.3" r="0.46" fill="#fff" opacity="0.7"/>
<circle cx="275.5" cy="112.9" r="0.38" fill="#fff" opacity="0.7"/>
<circle cx="275.3" cy="275.7" r="0.81" fill="#fff" opacity="0.7"/>
<circle cx="276.2" cy="893.9" r="0.35" fill="#fff" opacity="0.7"/>
<circle cx="281.5" cy="200.9" r="0.73" fill="#fff" opacity="0.7"/>
<circle cx="280.1" cy="296.1" r="0.58" fill="#fff" opacity="0.7"/>
<circle cx="281.5" cy="123.9" r="0.58" fill="#fff" opacity="0.7"/>
<circle cx="274.8" cy="97.5" r="0.65" fill="#fff" opacity="0.7"/>
<circle cx="277.7" cy="951.8" r="0.65" fill="#fff" opacity="0.7"/>
<circle cx="281.7" cy="120.0" r="0.47" fill="#fff" opacity="0.7"/>
<circle cx="275.0" cy="206.3" r="0.85" fill="#fff" opacity="0.7"/>
<circle cx="279.6" cy="946.4" r="0.77" fill="#fff" opacity="0.7"/>
<circle cx="275.4" cy="868.6" r="0.66" fill="#fff" opacity="0.7"/>
<circle cx="279.0" cy="755.1" r="0.43" fill="#fff" opacity="0.7"/>
<circle cx="283.4" cy="283.5" r="0.76" fill="#fff" opacity="0.7"/>
<circle cx="282.1" cy="974.4" r="0.50" fill="#fff" opacity="0.7"/>
<circle cx="272.6" cy="298.8" r="0.63" fill="#fff" opacity="0.7"/>
<rect x="117.6" y="76.2" width="138.8" height="37.4" fill="#e95a0c"/>
<text x="154.20" y="93.60" font-size="12.6" font-weight="bold" font-style="normal" text-anchor="start" fill="#fff" textLength="38.60" lengthAdjust="spacingAndGlyphs" >Paints</text>
<text x="153.80" y="107.60" font-size="12.6" font-weight="bold" font-style="italic" text-anchor="start" fill="#fff" textLength="51.20" lengthAdjust="spacingAndGlyphs" >Pinturas</text>
<rect x="117.6" y="549" width="138.8" height="107" fill="#e8521a"/>
<text x="154.00" y="567.20" font-size="12.6" font-weight="bold" font-style="normal" text-anchor="start" fill="#fff" textLength="94.20" lengthAdjust="spacingAndGlyphs" >Recommended</text>
<text x="154.00" y="581.00" font-size="12.6" font-weight="bold" font-style="normal" text-anchor="start" fill="#fff" textLength="55.00" lengthAdjust="spacingAndGlyphs" >finishing</text>
<text x="154.00" y="594.60" font-size="12.6" font-weight="bold" font-style="normal" text-anchor="start" fill="#fff" textLength="56.40" lengthAdjust="spacingAndGlyphs" >products</text>
<text x="153.60" y="617.20" font-size="12.6" font-weight="bold" font-style="italic" text-anchor="start" fill="#fff" textLength="62.60" lengthAdjust="spacingAndGlyphs" >Productos</text>
<text x="153.60" y="631.00" font-size="12.6" font-weight="bold" font-style="italic" text-anchor="start" fill="#fff" textLength="90.80" lengthAdjust="spacingAndGlyphs" >recomendados</text>
<text x="153.60" y="644.60" font-size="12.6" font-weight="bold" font-style="italic" text-anchor="start" fill="#fff" textLength="98.00" lengthAdjust="spacingAndGlyphs" >para el acabado</text>
<rect x="154.1" y="130.9" width="29" height="29.6" fill="#e9e5db" stroke="#3a3a39" stroke-width="1"/>
<text transform="translate(187.20,141.00) scale(0.692,1)" font-size="10.3" font-weight="bold" font-style="normal" text-anchor="start" fill="#1d1d1b" stroke="#1d1d1b" stroke-width="0.42">CREAM</text>
<text transform="translate(187.20,149.90) scale(0.757,1)" font-size="9.8" font-weight="normal" font-style="normal" text-anchor="start" fill="#2b2b2a" stroke="#2b2b2a" stroke-width="0.22">RC002</text>
<text transform="translate(187.20,158.90) scale(0.757,1)" font-size="9.8" font-weight="normal" font-style="normal" text-anchor="start" fill="#2b2b2a" stroke="#2b2b2a" stroke-width="0.22">AK11032</text>
<rect x="154.1" y="181.9" width="29" height="29.6" fill="#ffffff" stroke="#3a3a39" stroke-width="1"/>
<text transform="translate(187.20,192.00) scale(0.692,1)" font-size="10.3" font-weight="bold" font-style="normal" text-anchor="start" fill="#1d1d1b" stroke="#1d1d1b" stroke-width="0.42">WHITE</text>
<text transform="translate(187.20,200.90) scale(0.757,1)" font-size="9.8" font-weight="normal" font-style="normal" text-anchor="start" fill="#2b2b2a" stroke="#2b2b2a" stroke-width="0.22">RC004</text>
<text transform="translate(187.20,209.90) scale(0.757,1)" font-size="9.8" font-weight="normal" font-style="normal" text-anchor="start" fill="#2b2b2a" stroke="#2b2b2a" stroke-width="0.22">AK11001</text>
<rect x="153.8" y="233.4" width="29.2" height="29" fill="#e8941a"/>
<text transform="translate(187.20,243.00) scale(0.692,1)" font-size="10.3" font-weight="bold" font-style="normal" text-anchor="start" fill="#1d1d1b" stroke="#1d1d1b" stroke-width="0.42">CLEAR ORANGE</text>
<text transform="translate(187.20,251.90) scale(0.757,1)" font-size="9.8" font-weight="normal" font-style="normal" text-anchor="start" fill="#2b2b2a" stroke="#2b2b2a" stroke-width="0.22">RC506</text>
<text transform="translate(187.20,260.90) scale(0.757,1)" font-size="9.8" font-weight="normal" font-style="normal" text-anchor="start" fill="#2b2b2a" stroke="#2b2b2a" stroke-width="0.22">AK11218</text>
<rect x="153.8" y="284.4" width="29.2" height="29" fill="#be1622"/>
<text transform="translate(187.20,294.00) scale(0.692,1)" font-size="10.3" font-weight="bold" font-style="normal" text-anchor="start" fill="#1d1d1b" stroke="#1d1d1b" stroke-width="0.42">CLEAR RED</text>
<text transform="translate(187.20,302.90) scale(0.757,1)" font-size="9.8" font-weight="normal" font-style="normal" text-anchor="start" fill="#2b2b2a" stroke="#2b2b2a" stroke-width="0.22">RC503</text>
<text transform="translate(187.20,311.90) scale(0.757,1)" font-size="9.8" font-weight="normal" font-style="normal" text-anchor="start" fill="#2b2b2a" stroke="#2b2b2a" stroke-width="0.22">AK11213</text>
<rect x="153.8" y="335.4" width="29.2" height="29" fill="#646464"/>
<text transform="translate(187.20,345.00) scale(0.692,1)" font-size="10.3" font-weight="bold" font-style="normal" text-anchor="start" fill="#1d1d1b" stroke="#1d1d1b" stroke-width="0.42">TIRE BLACK</text>
<text transform="translate(187.20,353.90) scale(0.757,1)" font-size="9.8" font-weight="normal" font-style="normal" text-anchor="start" fill="#2b2b2a" stroke="#2b2b2a" stroke-width="0.22">RC022</text>
<text transform="translate(187.20,362.90) scale(0.757,1)" font-size="9.8" font-weight="normal" font-style="normal" text-anchor="start" fill="#2b2b2a" stroke="#2b2b2a" stroke-width="0.22">AK11027</text>
<rect x="153.8" y="386.4" width="29.2" height="29" fill="#b2b2b2"/>
<text transform="translate(187.20,400.80) scale(0.692,1)" font-size="10.3" font-weight="bold" font-style="normal" text-anchor="start" fill="#1d1d1b" stroke="#1d1d1b" stroke-width="0.42">STEEL</text>
<text transform="translate(187.20,409.60) scale(0.757,1)" font-size="9.8" font-weight="normal" font-style="normal" text-anchor="start" fill="#2b2b2a" stroke="#2b2b2a" stroke-width="0.22">AK476</text>
<rect x="153.8" y="437.4" width="29.2" height="29" fill="#969ea2"/>
<text transform="translate(187.20,447.00) scale(0.692,1)" font-size="10.3" font-weight="bold" font-style="normal" text-anchor="start" fill="#1d1d1b" stroke="#1d1d1b" stroke-width="0.42">MATTE</text>
<text transform="translate(187.20,455.90) scale(0.692,1)" font-size="10.3" font-weight="bold" font-style="normal" text-anchor="start" fill="#1d1d1b" stroke="#1d1d1b" stroke-width="0.42">ALUMINIUM</text>
<text transform="translate(187.20,464.90) scale(0.757,1)" font-size="9.8" font-weight="normal" font-style="normal" text-anchor="start" fill="#2b2b2a" stroke="#2b2b2a" stroke-width="0.22">AK488</text>
<rect x="153.8" y="488.4" width="29.2" height="29" fill="#132c62"/>
<text transform="translate(187.20,498.00) scale(0.692,1)" font-size="10.3" font-weight="bold" font-style="normal" text-anchor="start" fill="#1d1d1b" stroke="#1d1d1b" stroke-width="0.42">DARK BLUE</text>
<text transform="translate(187.20,506.90) scale(0.757,1)" font-size="9.8" font-weight="normal" font-style="normal" text-anchor="start" fill="#2b2b2a" stroke="#2b2b2a" stroke-width="0.22">RC011</text>
<text transform="translate(187.20,515.90) scale(0.757,1)" font-size="9.8" font-weight="normal" font-style="normal" text-anchor="start" fill="#2b2b2a" stroke="#2b2b2a" stroke-width="0.22">AK11186</text>
<text transform="translate(154.20,678.40) scale(0.765,1)" font-size="12.5" font-weight="bold" font-style="normal" text-anchor="start" fill="#1d1d1b" >· Overall wash |</text>
<text transform="translate(154.20,696.00) scale(0.765,1)" font-size="12.5" font-weight="bold" font-style="italic" text-anchor="start" fill="#1d1d1b" >Lavado general</text>
<text transform="translate(161.00,712.00) scale(0.765,1)" font-size="12.5" font-weight="normal" font-style="normal" text-anchor="start" fill="#222221" stroke="#222221" stroke-width="0.15">AK093 Interior Wash</text>
<text transform="translate(154.2,729.6) scale(0.765,1)" font-size="12.5" font-weight="bold" fill="#1d1d1b">· Rust | <tspan font-style="italic">Óxido</tspan></text>
<text transform="translate(161.00,745.60) scale(0.765,1)" font-size="12.5" font-weight="normal" font-style="normal" text-anchor="start" fill="#222221" stroke="#222221" stroke-width="0.15">AK10041 Rust &amp; Streaking</text>
<text transform="translate(161.00,761.20) scale(0.765,1)" font-size="12.5" font-weight="normal" font-style="normal" text-anchor="start" fill="#222221" stroke="#222221" stroke-width="0.15">Effects Set</text>
<text transform="translate(154.2,778.6) scale(0.765,1)" font-size="12.5" font-weight="bold" fill="#1d1d1b">· Dust | <tspan font-style="italic">Polvo</tspan></text>
<text transform="translate(161.00,794.40) scale(0.765,1)" font-size="12.5" font-weight="normal" font-style="normal" text-anchor="start" fill="#222221" stroke="#222221" stroke-width="0.15">AK4062 Light Dust Deposit</text>
<text transform="translate(154.2,812.4) scale(0.765,1)" font-size="12.5" font-weight="bold" fill="#1d1d1b">· Mud | <tspan font-style="italic">Barro</tspan></text>
<text transform="translate(161.00,828.60) scale(0.765,1)" font-size="12.5" font-weight="normal" font-style="normal" text-anchor="start" fill="#222221" stroke="#222221" stroke-width="0.15">AK017 Earth Effects</text>
<text transform="translate(154.20,846.40) scale(0.765,1)" font-size="12.5" font-weight="bold" font-style="normal" text-anchor="start" fill="#1d1d1b" >· Streaking effects |</text>
<text transform="translate(154.20,864.00) scale(0.765,1)" font-size="12.5" font-weight="bold" font-style="italic" text-anchor="start" fill="#1d1d1b" >Efectos de escurrido</text>
<text transform="translate(161.00,879.60) scale(0.765,1)" font-size="12.5" font-weight="normal" font-style="normal" text-anchor="start" fill="#222221" stroke="#222221" stroke-width="0.15">AK014 Winter Streaking</text>
<text transform="translate(161.00,895.60) scale(0.765,1)" font-size="12.5" font-weight="normal" font-style="normal" text-anchor="start" fill="#222221" stroke="#222221" stroke-width="0.15">Grime</text>
<text transform="translate(154.2,913.4) scale(0.765,1)" font-size="12.5" font-weight="bold" fill="#1d1d1b">· Oil | <tspan font-style="italic">Aceite</tspan></text>
<text transform="translate(161.00,929.00) scale(0.765,1)" font-size="12.5" font-weight="normal" font-style="normal" text-anchor="start" fill="#222221" stroke="#222221" stroke-width="0.15">AK084 Engine Oil</text>
<text transform="translate(154.2,947.0) scale(0.765,1)" font-size="12.5" font-weight="bold" fill="#1d1d1b">· Fuel | <tspan font-style="italic">Combustible</tspan></text>
<text transform="translate(161.00,963.00) scale(0.765,1)" font-size="12.5" font-weight="normal" font-style="normal" text-anchor="start" fill="#222221" stroke="#222221" stroke-width="0.15">AK025 Fuel Stains</text>
<path d="M160.6,15 L176.2,37 L145,37 Z" fill="#1d1d1b"/>
<text x="160.4" y="32.6" font-size="11.4" font-weight="bold" fill="#fff" text-anchor="middle">c</text>
<text x="187.40" y="22.50" font-size="14.8" font-weight="bold" font-style="normal" text-anchor="start" fill="#1d1d1b" textLength="172.00" lengthAdjust="spacingAndGlyphs" >TV/Press vehicle, 1980s</text>
<text x="187.00" y="39.80" font-size="14.8" font-weight="bold" font-style="italic" text-anchor="start" fill="#1d1d1b" textLength="209.50" lengthAdjust="spacingAndGlyphs" >Vehículo de Prensa/TV, 1980s</text>
<g id="v1"><path d="M463,176 L506,205 L655,205 L655,218 L640,222 L572,222 L570,226.4 L556.8,226.4 L556.8,218 L470,218 L455,200 Z" fill="#363636" stroke="none" stroke-width="0.5" />
<path d="M645,186 L735,186 L735,200 L645,215 Z" fill="#363636" stroke="none" stroke-width="0.5" />
<rect x="720.00" y="189.60" width="64.50" height="8.20" rx="0" fill="#363636" stroke="none" stroke-width="0.5" />
<rect x="731.00" y="204.30" width="37.00" height="5.60" rx="2.8" fill="#363636" stroke="none" stroke-width="0.5" />
<path d="M720,221 L757,209.5" fill="none" stroke="#363636" stroke-width="3.6" stroke-linecap="round"/>
<path d="M722,212 L745,200" fill="none" stroke="#363636" stroke-width="4" />
<rect x="736.00" y="197.00" width="14.00" height="8.00" rx="0" fill="#363636" stroke="none" stroke-width="0.5" />
<path d="M640,214 L662,220" fill="none" stroke="#363636" stroke-width="4" />
<path d="M470,224 L502,211" fill="none" stroke="#363636" stroke-width="3.6" stroke-linecap="round"/>
<path d="M364.4,195.8 L374,195.8 L374,192.8 L389.6,192.8 L389.6,196.4 L406,196.4 L406,207.2 L389.6,207.2 L389.6,209.6 L374,209.6 L374,208.4 L364.4,208.4 Z" fill="#363636" stroke="none" stroke-width="0.5" />
<path d="M376.6,194 L376.6,190 Q376.8,186.8 374.2,186.8 Q371.6,187 372.2,190.6" fill="none" stroke="#363636" stroke-width="2.4" stroke-linecap="round"/>
<path d="M376,208 Q373.4,214 377.6,217 L398,226" fill="none" stroke="#363636" stroke-width="4.0" stroke-linecap="round"/>
<rect x="391.40" y="219.60" width="2.60" height="8.40" rx="0" fill="#363636" stroke="none" stroke-width="0.5" />
<path d="M400,186 L408,186 L408,200 L400,200 Z" fill="#363636" stroke="none" stroke-width="0.5" />
<path d="M427,177 L427,172.5 Q427,171 428.5,171 L437,171 Q438.5,171 438.5,172.5 L438.5,177 Z" fill="#363636" stroke="none" stroke-width="0.5" />
<path d="M782.4,95.6 L788.6,95.6 L788.6,104.2 L782.4,104.2 Z" fill="#e9e5da" stroke="#7b7973" stroke-width="0.5" />
<path d="M783,133 L789,133 L793,128 L798,128 L798,140 L793,140 L790,150 L790,178 L794,182 L794,188 L783,188 Z" fill="#e9e5da" stroke="#7b7973" stroke-width="0.5" />
<path d="M785.5,146 L788.5,146 L788.5,176 L785.5,176 Z" fill="#fff" stroke="#7b7973" stroke-width="0.5" />
<rect x="782.40" y="186.00" width="20.00" height="17.00" rx="0.8" fill="#e9e5da" stroke="#7b7973" stroke-width="0.6" />
<rect x="784.50" y="188.00" width="16.00" height="13.00" rx="0" fill="none" stroke="#b3afa5" stroke-width="0.4" />
<rect x="797.40" y="98.00" width="22.80" height="80.60" rx="8" fill="#565656" stroke="#2c2c2c" stroke-width="0.8" />
<ellipse cx="803.4" cy="105.5" rx="3.6" ry="2.0" fill="#4e4e4e" stroke="#3a3a3a" stroke-width="0.5"/>
<ellipse cx="814.4" cy="109.6" rx="3.6" ry="2.0" fill="#4e4e4e" stroke="#3a3a3a" stroke-width="0.5"/>
<ellipse cx="803.4" cy="113.8" rx="3.6" ry="2.0" fill="#4e4e4e" stroke="#3a3a3a" stroke-width="0.5"/>
<ellipse cx="814.4" cy="117.9" rx="3.6" ry="2.0" fill="#4e4e4e" stroke="#3a3a3a" stroke-width="0.5"/>
<ellipse cx="803.4" cy="122.1" rx="3.6" ry="2.0" fill="#4e4e4e" stroke="#3a3a3a" stroke-width="0.5"/>
<ellipse cx="814.4" cy="126.2" rx="3.6" ry="2.0" fill="#4e4e4e" stroke="#3a3a3a" stroke-width="0.5"/>
<ellipse cx="803.4" cy="130.4" rx="3.6" ry="2.0" fill="#4e4e4e" stroke="#3a3a3a" stroke-width="0.5"/>
<ellipse cx="814.4" cy="134.5" rx="3.6" ry="2.0" fill="#4e4e4e" stroke="#3a3a3a" stroke-width="0.5"/>
<ellipse cx="803.4" cy="138.7" rx="3.6" ry="2.0" fill="#4e4e4e" stroke="#3a3a3a" stroke-width="0.5"/>
<ellipse cx="814.4" cy="142.8" rx="3.6" ry="2.0" fill="#4e4e4e" stroke="#3a3a3a" stroke-width="0.5"/>
<ellipse cx="803.4" cy="147.0" rx="3.6" ry="2.0" fill="#4e4e4e" stroke="#3a3a3a" stroke-width="0.5"/>
<ellipse cx="814.4" cy="151.1" rx="3.6" ry="2.0" fill="#4e4e4e" stroke="#3a3a3a" stroke-width="0.5"/>
<ellipse cx="803.4" cy="155.3" rx="3.6" ry="2.0" fill="#4e4e4e" stroke="#3a3a3a" stroke-width="0.5"/>
<ellipse cx="814.4" cy="159.4" rx="3.6" ry="2.0" fill="#4e4e4e" stroke="#3a3a3a" stroke-width="0.5"/>
<ellipse cx="803.4" cy="163.6" rx="3.6" ry="2.0" fill="#4e4e4e" stroke="#3a3a3a" stroke-width="0.5"/>
<ellipse cx="814.4" cy="167.7" rx="3.6" ry="2.0" fill="#4e4e4e" stroke="#3a3a3a" stroke-width="0.5"/>
<ellipse cx="803.4" cy="171.9" rx="3.6" ry="2.0" fill="#4e4e4e" stroke="#3a3a3a" stroke-width="0.5"/>
<ellipse cx="814.4" cy="176.0" rx="3.6" ry="2.0" fill="#4e4e4e" stroke="#3a3a3a" stroke-width="0.5"/>
<path d="M808.9,100 L808.9,176" fill="none" stroke="#444" stroke-width="0.4" />
<path d="M404.8,145 Q404.6,134.4 413.5,132.3 L464,126.4 L508,125.4 L527.6,123.2 L538.2,71 L781.4,70.4 L783.4,120 L782.6,189 L726,187 L719.5,190.7 A40,40 0 0 0 655.2,192.4 L642,204.8 L503,204.8 L464.5,176.5 L461,183.8 A40,40 0 0 0 404.6,191 L404.2,177 L398.8,172.6 Q398.6,169.6 401.4,168.4 L405.2,166 Z" fill="#e9e5da" stroke="#55534f" stroke-width="0.6" />
<path d="M653.6,183.4 Q658,169 672,168.8 L706,168.8 Q718,169 724.8,186.4" fill="none" stroke="#7b7973" stroke-width="0.5" />
<path d="M404,170 L415.6,158.6 L469.5,158.6 Q474,158.6 477,162 L514.8,202.6" fill="none" stroke="#7b7973" stroke-width="0.6" />
<path d="M420,158.6 L422,163 L465,163 Q470,163.4 473,167 L505.5,204" fill="none" stroke="#7b7973" stroke-width="0.4" />
<path d="M483.5,168 L491,176.5" fill="none" stroke="#333" stroke-width="0.9" />
<path d="M440,163 L440,174 M443.2,163 L443.2,174" fill="none" stroke="#7b7973" stroke-width="0.5" />
<path d="M405.4,147 L486,147 L486,159" fill="none" stroke="#7b7973" stroke-width="0.5" />
<path d="M409,137 Q440,131 508,128.5" fill="none" stroke="#7b7973" stroke-width="0.4" />
<path d="M408,140 Q440,134 470,133" fill="none" stroke="#7b7973" stroke-width="0.4" />
<path d="M508,125.4 L508,146.5 L528,146.5" fill="none" stroke="#7b7973" stroke-width="0.5" />
<path d="M405.4,151 L486,151" fill="none" stroke="#7b7973" stroke-width="0.35" />
<path d="M471.5,131.2 L471.5,137" fill="none" stroke="#6b6963" stroke-width="0.7" />
<path d="M474.2,131.2 L474.2,137" fill="none" stroke="#6b6963" stroke-width="0.7" />
<path d="M476.9,131.2 L476.9,137" fill="none" stroke="#6b6963" stroke-width="0.7" />
<path d="M479.6,131.2 L479.6,137" fill="none" stroke="#6b6963" stroke-width="0.7" />
<path d="M482.3,131.2 L482.3,137" fill="none" stroke="#6b6963" stroke-width="0.7" />
<path d="M485.0,131.2 L485.0,137" fill="none" stroke="#6b6963" stroke-width="0.7" />
<path d="M487.7,131.2 L487.7,137" fill="none" stroke="#6b6963" stroke-width="0.7" />
<path d="M490.4,131.2 L490.4,137" fill="none" stroke="#6b6963" stroke-width="0.7" />
<rect x="470.30" y="130.60" width="22.00" height="7.00" rx="1" fill="none" stroke="#7b7973" stroke-width="0.35" />
<path d="M490,153.2 L502.6,153.2" fill="none" stroke="#6b6963" stroke-width="0.6" />
<path d="M490,155.7 L502.6,155.7" fill="none" stroke="#6b6963" stroke-width="0.6" />
<path d="M490,158.2 L502.6,158.2" fill="none" stroke="#6b6963" stroke-width="0.6" />
<path d="M490,160.7 L502.6,160.7" fill="none" stroke="#6b6963" stroke-width="0.6" />
<path d="M490,163.2 L502.6,163.2" fill="none" stroke="#6b6963" stroke-width="0.6" />
<path d="M490,165.7 L502.6,165.7" fill="none" stroke="#6b6963" stroke-width="0.6" />
<path d="M510,160.5 L521,160.5 Q523,160.5 523,162.5 L523,171 Q523,175 521,176 L517,177.6 Q515,177.6 514,176 L509.6,165 Q508.6,160.5 510,160.5 Z" fill="none" stroke="#7b7973" stroke-width="0.5" />
<path d="M414.6,143 L412.2,153.6 L411,155.6 L416.6,155.6 L415.6,153.6 Z" fill="#efece4" stroke="#7b7973" stroke-width="0.45" />
<path d="M456.6,126.8 L461,123.2 L467.6,122.8 L468,124 L470,124 L470,126 Z" fill="#7f97c7" stroke="#3c4a6a" stroke-width="0.4" />
<path d="M402.4,150.2 L410,151 L410.2,161 L408.6,161.6 L408,166 L404.6,166.4 L405,161.6 L402.4,161.2 Z" fill="#16306b" stroke="none" stroke-width="0.5" />
<rect x="398.80" y="153.40" width="4.00" height="7.60" rx="1.0" fill="#f07d14" stroke="#b85a08" stroke-width="0.3" />
<rect x="404.20" y="152.60" width="5.00" height="7.40" rx="0" fill="#f07d14" stroke="none" stroke-width="0.5" />
<path d="M537.4,72 L527.6,121" fill="none" stroke="#2a2a2a" stroke-width="1.0" />
<path d="M524.6,108 L527.8,107 L527,115.6 L523.6,116 Z" fill="#3a3a3a" stroke="none" stroke-width="0.5" />
<path d="M531.2,123.4 L531.2,185 Q531.2,192.4 538.6,192.4 L611.8,192.4 Q619.2,192.4 619.2,185 L619.2,124" fill="none" stroke="#7b7973" stroke-width="0.55" />
<path d="M535,124.6 L535,183 Q535,189.4 541.4,189.4 L609,189.4 Q615.4,189.4 615.4,183 L615.4,124.6 Z" fill="none" stroke="#7b7973" stroke-width="0.35" />
<path d="M531.2,123.4 L541,75 Q541.6,72.6 544,72.6 L612,72.6 Q614.6,72.6 614.6,75 L614.6,124" fill="none" stroke="#7b7973" stroke-width="0.4" />
<path d="M528,124 L528,204.8" fill="none" stroke="#7b7973" stroke-width="0.5" />
<path d="M531,126.1 L542,126.1 Q546,129.5 542,132.9 L531,132.9 Z" fill="none" stroke="#7b7973" stroke-width="0.45" />
<circle cx="536.00" cy="129.50" r="1.20" fill="none" stroke="#7b7973" stroke-width="0.4" />
<path d="M531,166.6 L542,166.6 Q546,170 542,173.4 L531,173.4 Z" fill="none" stroke="#7b7973" stroke-width="0.45" />
<circle cx="536.00" cy="170.00" r="1.20" fill="none" stroke="#7b7973" stroke-width="0.4" />
<path d="M623.3,71 L623.3,204.8" fill="none" stroke="#7b7973" stroke-width="0.5" />
<path d="M619.2,124 L619.2,75" fill="none" stroke="#7b7973" stroke-width="0.4" />
<path d="M623.3,144.8 L782.8,144.8" fill="none" stroke="#7b7973" stroke-width="0.5" />
<path d="M767.2,71 L769,144.8 L769,186" fill="none" stroke="#7b7973" stroke-width="0.4" />
<path d="M626,71 Q626,66 630,62" fill="none" stroke="#7b7973" stroke-width="0.3" />
<path d="M516,202 L640,202" fill="none" stroke="#7b7973" stroke-width="0.35" />
<path d="M538.6,144.8 L613.6,144.8 Q614.6,147 613.4,150.6 L599,150.6 L596.6,148.6 L538.6,148.6 Q536.6,146.7 538.6,144.8 Z" fill="#efece4" stroke="#7b7973" stroke-width="0.5" />
<rect x="599.40" y="147.20" width="12.20" height="3.30" rx="0.6" fill="#6f87b8" stroke="#3c4a6a" stroke-width="0.3" />
<circle cx="612.80" cy="135.60" r="1.00" fill="#5b74a8" stroke="none" stroke-width="0.5" />
<path d="M548.4,76 L607.4,76 Q610.4,76 610.4,79 L610.4,116.2 Q610.4,119.2 607.4,119.2 L541.4,119.2 Q538.8,119 539.4,116.4 L545.4,78.4 Q545.8,76 548.4,76 Z" fill="url(#glass)" stroke="#8e9199" stroke-width="0.5" />
<rect x="625.90" y="77.00" width="90.60" height="42.30" rx="6" fill="url(#glass)" stroke="#353535" stroke-width="2.9" />
<rect x="627.60" y="78.70" width="87.20" height="38.90" rx="4.5" fill="none" stroke="#777" stroke-width="0.4" />
<rect x="724.20" y="78.00" width="29.20" height="40.60" rx="4.5" fill="url(#glass)" stroke="#353535" stroke-width="2.8" />
<rect x="725.80" y="79.60" width="26.00" height="37.40" rx="3" fill="none" stroke="#777" stroke-width="0.4" />
<path d="M769.2,78.4 L781.8,78.4 L783.2,118.2 L769.2,118.2 Q765.4,118.2 765.4,114.4 L765.4,82.2 Q765.4,78.4 769.2,78.4 Z" fill="url(#glass)" stroke="#353535" stroke-width="2.6" stroke-linejoin="round"/>
<path d="M530.6,69.4 Q534,63.8 548,61.4 Q575,55.4 610,54.4 L700,55.6 Q745,56.6 766,59.0 Q778,60.4 780.6,68 L782.6,69.6 L781.8,70.8 L538.6,70.9 L531,71.6 Q529.6,70.8 530.6,69.4 Z" fill="#fcfcfa" stroke="#55534f" stroke-width="0.55" />
<path d="M540,69 Q545,64.4 560,62 Q590,59.6 625,59.6 L760,62.4" fill="none" stroke="#a9a9a5" stroke-width="0.4" />
<path d="M540,68.6 L780,68.4" fill="none" stroke="#b9b9b5" stroke-width="0.35" />
<path d="M626,70 Q626,62 632,58" fill="none" stroke="#b7b7b3" stroke-width="0.35" />
<path d="M549.2,103 Q549.2,101.6 551,101.6 L553,101.4 Q554.4,101.4 554.4,103 L554.2,126.8 L556.4,126.8 L556.4,129 L553.4,129 L553.4,133.8 L550.6,133.8 L550.6,129 L547.2,129 L547.2,126.8 L549.4,126.8 Z" fill="#242424" stroke="none" stroke-width="0.5" />
<rect x="755.50" y="152.50" width="10.10" height="4.40" rx="0.5" fill="#f07d14" stroke="#c9600a" stroke-width="0.3" />
<rect x="780.60" y="181.40" width="1.40" height="5.20" rx="0" fill="#e01010" stroke="none" stroke-width="0.5" />
<rect x="783.40" y="190.60" width="1.80" height="8.40" rx="0" fill="#f07d14" stroke="none" stroke-width="0.5" />
<circle cx="436.40" cy="215.30" r="38.60" fill="#585858" stroke="#2c2c2c" stroke-width="0.9" />
<circle cx="436.40" cy="215.30" r="35.10" fill="none" stroke="#3b3b3b" stroke-width="6.2" stroke-dasharray="0.55 1.75"/>
<circle cx="436.40" cy="215.30" r="31.60" fill="#4f4f4f" stroke="#2f2f2f" stroke-width="0.6" />
<circle cx="436.40" cy="215.30" r="29.00" fill="none" stroke="#3c3c3c" stroke-width="0.45" />
<circle cx="436.40" cy="215.30" r="26.40" fill="none" stroke="#666" stroke-width="1.8" stroke-dasharray="0.7 1.1" opacity="0.45"/>
<circle cx="436.40" cy="215.30" r="24.00" fill="none" stroke="#3a3a3a" stroke-width="0.45" />
<circle cx="436.40" cy="215.30" r="21.60" fill="#dcd8cb" stroke="#4e4c48" stroke-width="0.9" />
<circle cx="436.40" cy="215.30" r="19.40" fill="#e5e1d5" stroke="#8e8b83" stroke-width="0.5" />
<circle cx="436.40" cy="215.30" r="17.20" fill="none" stroke="#a19e95" stroke-width="0.5" />
<circle cx="436.40" cy="215.30" r="14.60" fill="none" stroke="#b5b2a8" stroke-width="0.5" stroke-dasharray="5 3"/>
<circle cx="436.40" cy="215.30" r="10.80" fill="#cdc8bb" stroke="#85827a" stroke-width="0.6" />
<circle cx="443.74" cy="217.27" r="2.10" fill="#bdb8ab" stroke="#7a776f" stroke-width="0.45" />
<circle cx="438.37" cy="222.64" r="2.10" fill="#bdb8ab" stroke="#7a776f" stroke-width="0.45" />
<circle cx="431.03" cy="220.67" r="2.10" fill="#bdb8ab" stroke="#7a776f" stroke-width="0.45" />
<circle cx="429.06" cy="213.33" r="2.10" fill="#bdb8ab" stroke="#7a776f" stroke-width="0.45" />
<circle cx="434.43" cy="207.96" r="2.10" fill="#bdb8ab" stroke="#7a776f" stroke-width="0.45" />
<circle cx="441.77" cy="209.93" r="2.10" fill="#bdb8ab" stroke="#7a776f" stroke-width="0.45" />
<circle cx="436.40" cy="215.30" r="4.60" fill="#c8c3b6" stroke="#7e7b74" stroke-width="0.5" />
<circle cx="436.40" cy="215.30" r="1.50" fill="#f2f0ea" stroke="#7e7b74" stroke-width="0.4" />
<ellipse cx="425.4" cy="203.3" rx="2.3" ry="1.2" transform="rotate(-40 425.4 203.3)" fill="#f6f4ee" stroke="#55534e" stroke-width="0.5"/>
<circle cx="688.00" cy="215.30" r="38.60" fill="#585858" stroke="#2c2c2c" stroke-width="0.9" />
<circle cx="688.00" cy="215.30" r="35.10" fill="none" stroke="#3b3b3b" stroke-width="6.2" stroke-dasharray="0.55 1.75"/>
<circle cx="688.00" cy="215.30" r="31.60" fill="#4f4f4f" stroke="#2f2f2f" stroke-width="0.6" />
<circle cx="688.00" cy="215.30" r="29.00" fill="none" stroke="#3c3c3c" stroke-width="0.45" />
<circle cx="688.00" cy="215.30" r="26.40" fill="none" stroke="#666" stroke-width="1.8" stroke-dasharray="0.7 1.1" opacity="0.45"/>
<circle cx="688.00" cy="215.30" r="24.00" fill="none" stroke="#3a3a3a" stroke-width="0.45" />
<circle cx="688.00" cy="215.30" r="21.60" fill="#dcd8cb" stroke="#4e4c48" stroke-width="0.9" />
<circle cx="688.00" cy="215.30" r="19.40" fill="#e5e1d5" stroke="#8e8b83" stroke-width="0.5" />
<circle cx="688.00" cy="215.30" r="17.20" fill="none" stroke="#a19e95" stroke-width="0.5" />
<circle cx="688.00" cy="215.30" r="14.60" fill="none" stroke="#b5b2a8" stroke-width="0.5" stroke-dasharray="5 3"/>
<circle cx="688.00" cy="215.30" r="10.80" fill="#cdc8bb" stroke="#85827a" stroke-width="0.6" />
<circle cx="695.34" cy="217.27" r="2.10" fill="#bdb8ab" stroke="#7a776f" stroke-width="0.45" />
<circle cx="689.97" cy="222.64" r="2.10" fill="#bdb8ab" stroke="#7a776f" stroke-width="0.45" />
<circle cx="682.63" cy="220.67" r="2.10" fill="#bdb8ab" stroke="#7a776f" stroke-width="0.45" />
<circle cx="680.66" cy="213.33" r="2.10" fill="#bdb8ab" stroke="#7a776f" stroke-width="0.45" />
<circle cx="686.03" cy="207.96" r="2.10" fill="#bdb8ab" stroke="#7a776f" stroke-width="0.45" />
<circle cx="693.37" cy="209.93" r="2.10" fill="#bdb8ab" stroke="#7a776f" stroke-width="0.45" />
<circle cx="688.00" cy="215.30" r="4.60" fill="#c8c3b6" stroke="#7e7b74" stroke-width="0.5" />
<circle cx="688.00" cy="215.30" r="1.50" fill="#f2f0ea" stroke="#7e7b74" stroke-width="0.4" />
<ellipse cx="677.0" cy="203.3" rx="2.3" ry="1.2" transform="rotate(-40 677.0 203.3)" fill="#f6f4ee" stroke="#55534e" stroke-width="0.5"/><text x="645.2" y="112.8" font-size="38.4" fill="#161616" stroke="#161616" stroke-width="0.9" textLength="23.4" lengthAdjust="spacingAndGlyphs">T</text><text x="673.0" y="112.8" font-size="38.4" fill="#161616" stroke="#161616" stroke-width="0.9" textLength="27.4" lengthAdjust="spacingAndGlyphs">V</text>
<text x="652.9" y="143.6" font-size="23.4" font-weight="bold" fill="#ae0d1d" stroke="#ae0d1d" stroke-width="1.7" stroke-linejoin="miter" textLength="87.8" lengthAdjust="spacingAndGlyphs">PRESS</text>
<text x="557.0" y="171.1" font-size="22.8" font-weight="bold" fill="#ae0d1d" stroke="#ae0d1d" stroke-width="2.0" stroke-linejoin="miter" textLength="32.4" lengthAdjust="spacingAndGlyphs">TV</text>
<text x="559.2" y="182.7" font-size="9.2" font-weight="bold" fill="#ae0d1d" stroke="#ae0d1d" stroke-width="0.6" textLength="29.4" lengthAdjust="spacingAndGlyphs">PRESS</text></g>
<g id="v2"><g transform="translate(1173.5,232.4) scale(-1,1)"><path d="M463,176 L506,205 L655,205 L655,218 L640,222 L572,222 L570,226.4 L556.8,226.4 L556.8,218 L470,218 L455,200 Z" fill="#363636" stroke="none" stroke-width="0.5" />
<path d="M645,186 L735,186 L735,200 L645,215 Z" fill="#363636" stroke="none" stroke-width="0.5" />
<rect x="720.00" y="189.60" width="64.50" height="8.20" rx="0" fill="#363636" stroke="none" stroke-width="0.5" />
<rect x="731.00" y="204.30" width="37.00" height="5.60" rx="2.8" fill="#363636" stroke="none" stroke-width="0.5" />
<path d="M720,221 L757,209.5" fill="none" stroke="#363636" stroke-width="3.6" stroke-linecap="round"/>
<path d="M722,212 L745,200" fill="none" stroke="#363636" stroke-width="4" />
<rect x="736.00" y="197.00" width="14.00" height="8.00" rx="0" fill="#363636" stroke="none" stroke-width="0.5" />
<path d="M640,214 L662,220" fill="none" stroke="#363636" stroke-width="4" />
<path d="M470,224 L502,211" fill="none" stroke="#363636" stroke-width="3.6" stroke-linecap="round"/>
<path d="M364.4,195.8 L374,195.8 L374,192.8 L389.6,192.8 L389.6,196.4 L406,196.4 L406,207.2 L389.6,207.2 L389.6,209.6 L374,209.6 L374,208.4 L364.4,208.4 Z" fill="#363636" stroke="none" stroke-width="0.5" />
<path d="M376.6,194 L376.6,190 Q376.8,186.8 374.2,186.8 Q371.6,187 372.2,190.6" fill="none" stroke="#363636" stroke-width="2.4" stroke-linecap="round"/>
<path d="M376,208 Q373.4,214 377.6,217 L398,226" fill="none" stroke="#363636" stroke-width="4.0" stroke-linecap="round"/>
<rect x="391.40" y="219.60" width="2.60" height="8.40" rx="0" fill="#363636" stroke="none" stroke-width="0.5" />
<path d="M400,186 L408,186 L408,200 L400,200 Z" fill="#363636" stroke="none" stroke-width="0.5" />
<path d="M427,177 L427,172.5 Q427,171 428.5,171 L437,171 Q438.5,171 438.5,172.5 L438.5,177 Z" fill="#363636" stroke="none" stroke-width="0.5" />
<path d="M782.4,95.6 L788.6,95.6 L788.6,104.2 L782.4,104.2 Z" fill="#e9e5da" stroke="#7b7973" stroke-width="0.5" />
<path d="M783,133 L789,133 L793,128 L798,128 L798,140 L793,140 L790,150 L790,178 L794,182 L794,188 L783,188 Z" fill="#e9e5da" stroke="#7b7973" stroke-width="0.5" />
<path d="M785.5,146 L788.5,146 L788.5,176 L785.5,176 Z" fill="#fff" stroke="#7b7973" stroke-width="0.5" />
<rect x="782.40" y="186.00" width="20.00" height="17.00" rx="0.8" fill="#e9e5da" stroke="#7b7973" stroke-width="0.6" />
<rect x="784.50" y="188.00" width="16.00" height="13.00" rx="0" fill="none" stroke="#b3afa5" stroke-width="0.4" />
<rect x="797.40" y="98.00" width="22.80" height="80.60" rx="8" fill="#565656" stroke="#2c2c2c" stroke-width="0.8" />
<ellipse cx="803.4" cy="105.5" rx="3.6" ry="2.0" fill="#4e4e4e" stroke="#3a3a3a" stroke-width="0.5"/>
<ellipse cx="814.4" cy="109.6" rx="3.6" ry="2.0" fill="#4e4e4e" stroke="#3a3a3a" stroke-width="0.5"/>
<ellipse cx="803.4" cy="113.8" rx="3.6" ry="2.0" fill="#4e4e4e" stroke="#3a3a3a" stroke-width="0.5"/>
<ellipse cx="814.4" cy="117.9" rx="3.6" ry="2.0" fill="#4e4e4e" stroke="#3a3a3a" stroke-width="0.5"/>
<ellipse cx="803.4" cy="122.1" rx="3.6" ry="2.0" fill="#4e4e4e" stroke="#3a3a3a" stroke-width="0.5"/>
<ellipse cx="814.4" cy="126.2" rx="3.6" ry="2.0" fill="#4e4e4e" stroke="#3a3a3a" stroke-width="0.5"/>
<ellipse cx="803.4" cy="130.4" rx="3.6" ry="2.0" fill="#4e4e4e" stroke="#3a3a3a" stroke-width="0.5"/>
<ellipse cx="814.4" cy="134.5" rx="3.6" ry="2.0" fill="#4e4e4e" stroke="#3a3a3a" stroke-width="0.5"/>
<ellipse cx="803.4" cy="138.7" rx="3.6" ry="2.0" fill="#4e4e4e" stroke="#3a3a3a" stroke-width="0.5"/>
<ellipse cx="814.4" cy="142.8" rx="3.6" ry="2.0" fill="#4e4e4e" stroke="#3a3a3a" stroke-width="0.5"/>
<ellipse cx="803.4" cy="147.0" rx="3.6" ry="2.0" fill="#4e4e4e" stroke="#3a3a3a" stroke-width="0.5"/>
<ellipse cx="814.4" cy="151.1" rx="3.6" ry="2.0" fill="#4e4e4e" stroke="#3a3a3a" stroke-width="0.5"/>
<ellipse cx="803.4" cy="155.3" rx="3.6" ry="2.0" fill="#4e4e4e" stroke="#3a3a3a" stroke-width="0.5"/>
<ellipse cx="814.4" cy="159.4" rx="3.6" ry="2.0" fill="#4e4e4e" stroke="#3a3a3a" stroke-width="0.5"/>
<ellipse cx="803.4" cy="163.6" rx="3.6" ry="2.0" fill="#4e4e4e" stroke="#3a3a3a" stroke-width="0.5"/>
<ellipse cx="814.4" cy="167.7" rx="3.6" ry="2.0" fill="#4e4e4e" stroke="#3a3a3a" stroke-width="0.5"/>
<ellipse cx="803.4" cy="171.9" rx="3.6" ry="2.0" fill="#4e4e4e" stroke="#3a3a3a" stroke-width="0.5"/>
<ellipse cx="814.4" cy="176.0" rx="3.6" ry="2.0" fill="#4e4e4e" stroke="#3a3a3a" stroke-width="0.5"/>
<path d="M808.9,100 L808.9,176" fill="none" stroke="#444" stroke-width="0.4" />
<path d="M404.8,145 Q404.6,134.4 413.5,132.3 L464,126.4 L508,125.4 L527.6,123.2 L538.2,71 L781.4,70.4 L783.4,120 L782.6,189 L726,187 L719.5,190.7 A40,40 0 0 0 655.2,192.4 L642,204.8 L503,204.8 L464.5,176.5 L461,183.8 A40,40 0 0 0 404.6,191 L404.2,177 L398.8,172.6 Q398.6,169.6 401.4,168.4 L405.2,166 Z" fill="#e9e5da" stroke="#55534f" stroke-width="0.6" />
<path d="M653.6,183.4 Q658,169 672,168.8 L706,168.8 Q718,169 724.8,186.4" fill="none" stroke="#7b7973" stroke-width="0.5" />
<path d="M404,170 L415.6,158.6 L469.5,158.6 Q474,158.6 477,162 L514.8,202.6" fill="none" stroke="#7b7973" stroke-width="0.6" />
<path d="M420,158.6 L422,163 L465,163 Q470,163.4 473,167 L505.5,204" fill="none" stroke="#7b7973" stroke-width="0.4" />
<path d="M483.5,168 L491,176.5" fill="none" stroke="#333" stroke-width="0.9" />
<path d="M440,163 L440,174 M443.2,163 L443.2,174" fill="none" stroke="#7b7973" stroke-width="0.5" />
<path d="M405.4,147 L486,147 L486,159" fill="none" stroke="#7b7973" stroke-width="0.5" />
<path d="M409,137 Q440,131 508,128.5" fill="none" stroke="#7b7973" stroke-width="0.4" />
<path d="M408,140 Q440,134 470,133" fill="none" stroke="#7b7973" stroke-width="0.4" />
<path d="M508,125.4 L508,146.5 L528,146.5" fill="none" stroke="#7b7973" stroke-width="0.5" />
<path d="M405.4,151 L486,151" fill="none" stroke="#7b7973" stroke-width="0.35" />
<path d="M471.5,131.2 L471.5,137" fill="none" stroke="#6b6963" stroke-width="0.7" />
<path d="M474.2,131.2 L474.2,137" fill="none" stroke="#6b6963" stroke-width="0.7" />
<path d="M476.9,131.2 L476.9,137" fill="none" stroke="#6b6963" stroke-width="0.7" />
<path d="M479.6,131.2 L479.6,137" fill="none" stroke="#6b6963" stroke-width="0.7" />
<path d="M482.3,131.2 L482.3,137" fill="none" stroke="#6b6963" stroke-width="0.7" />
<path d="M485.0,131.2 L485.0,137" fill="none" stroke="#6b6963" stroke-width="0.7" />
<path d="M487.7,131.2 L487.7,137" fill="none" stroke="#6b6963" stroke-width="0.7" />
<path d="M490.4,131.2 L490.4,137" fill="none" stroke="#6b6963" stroke-width="0.7" />
<rect x="470.30" y="130.60" width="22.00" height="7.00" rx="1" fill="none" stroke="#7b7973" stroke-width="0.35" />
<path d="M490,153.2 L502.6,153.2" fill="none" stroke="#6b6963" stroke-width="0.6" />
<path d="M490,155.7 L502.6,155.7" fill="none" stroke="#6b6963" stroke-width="0.6" />
<path d="M490,158.2 L502.6,158.2" fill="none" stroke="#6b6963" stroke-width="0.6" />
<path d="M490,160.7 L502.6,160.7" fill="none" stroke="#6b6963" stroke-width="0.6" />
<path d="M490,163.2 L502.6,163.2" fill="none" stroke="#6b6963" stroke-width="0.6" />
<path d="M490,165.7 L502.6,165.7" fill="none" stroke="#6b6963" stroke-width="0.6" />
<path d="M510,160.5 L521,160.5 Q523,160.5 523,162.5 L523,171 Q523,175 521,176 L517,177.6 Q515,177.6 514,176 L509.6,165 Q508.6,160.5 510,160.5 Z" fill="none" stroke="#7b7973" stroke-width="0.5" />
<path d="M414.6,143 L412.2,153.6 L411,155.6 L416.6,155.6 L415.6,153.6 Z" fill="#efece4" stroke="#7b7973" stroke-width="0.45" />
<path d="M456.6,126.8 L461,123.2 L467.6,122.8 L468,124 L470,124 L470,126 Z" fill="#7f97c7" stroke="#3c4a6a" stroke-width="0.4" />
<path d="M402.4,150.2 L410,151 L410.2,161 L408.6,161.6 L408,166 L404.6,166.4 L405,161.6 L402.4,161.2 Z" fill="#16306b" stroke="none" stroke-width="0.5" />
<rect x="398.80" y="153.40" width="4.00" height="7.60" rx="1.0" fill="#f07d14" stroke="#b85a08" stroke-width="0.3" />
<rect x="404.20" y="152.60" width="5.00" height="7.40" rx="0" fill="#f07d14" stroke="none" stroke-width="0.5" />
<path d="M537.4,72 L527.6,121" fill="none" stroke="#2a2a2a" stroke-width="1.0" />
<path d="M524.6,108 L527.8,107 L527,115.6 L523.6,116 Z" fill="#3a3a3a" stroke="none" stroke-width="0.5" />
<path d="M531.2,123.4 L531.2,185 Q531.2,192.4 538.6,192.4 L611.8,192.4 Q619.2,192.4 619.2,185 L619.2,124" fill="none" stroke="#7b7973" stroke-width="0.55" />
<path d="M535,124.6 L535,183 Q535,189.4 541.4,189.4 L609,189.4 Q615.4,189.4 615.4,183 L615.4,124.6 Z" fill="none" stroke="#7b7973" stroke-width="0.35" />
<path d="M531.2,123.4 L541,75 Q541.6,72.6 544,72.6 L612,72.6 Q614.6,72.6 614.6,75 L614.6,124" fill="none" stroke="#7b7973" stroke-width="0.4" />
<path d="M528,124 L528,204.8" fill="none" stroke="#7b7973" stroke-width="0.5" />
<path d="M531,126.1 L542,126.1 Q546,129.5 542,132.9 L531,132.9 Z" fill="none" stroke="#7b7973" stroke-width="0.45" />
<circle cx="536.00" cy="129.50" r="1.20" fill="none" stroke="#7b7973" stroke-width="0.4" />
<path d="M531,166.6 L542,166.6 Q546,170 542,173.4 L531,173.4 Z" fill="none" stroke="#7b7973" stroke-width="0.45" />
<circle cx="536.00" cy="170.00" r="1.20" fill="none" stroke="#7b7973" stroke-width="0.4" />
<path d="M623.3,71 L623.3,204.8" fill="none" stroke="#7b7973" stroke-width="0.5" />
<path d="M619.2,124 L619.2,75" fill="none" stroke="#7b7973" stroke-width="0.4" />
<path d="M623.3,144.8 L782.8,144.8" fill="none" stroke="#7b7973" stroke-width="0.5" />
<path d="M767.2,71 L769,144.8 L769,186" fill="none" stroke="#7b7973" stroke-width="0.4" />
<path d="M626,71 Q626,66 630,62" fill="none" stroke="#7b7973" stroke-width="0.3" />
<path d="M516,202 L640,202" fill="none" stroke="#7b7973" stroke-width="0.35" />
<path d="M538.6,144.8 L613.6,144.8 Q614.6,147 613.4,150.6 L599,150.6 L596.6,148.6 L538.6,148.6 Q536.6,146.7 538.6,144.8 Z" fill="#efece4" stroke="#7b7973" stroke-width="0.5" />
<rect x="599.40" y="147.20" width="12.20" height="3.30" rx="0.6" fill="#6f87b8" stroke="#3c4a6a" stroke-width="0.3" />
<circle cx="612.80" cy="135.60" r="1.00" fill="#5b74a8" stroke="none" stroke-width="0.5" />
<path d="M548.4,76 L607.4,76 Q610.4,76 610.4,79 L610.4,116.2 Q610.4,119.2 607.4,119.2 L541.4,119.2 Q538.8,119 539.4,116.4 L545.4,78.4 Q545.8,76 548.4,76 Z" fill="url(#glass)" stroke="#8e9199" stroke-width="0.5" />
<rect x="625.90" y="77.00" width="90.60" height="42.30" rx="6" fill="url(#glass)" stroke="#353535" stroke-width="2.9" />
<rect x="627.60" y="78.70" width="87.20" height="38.90" rx="4.5" fill="none" stroke="#777" stroke-width="0.4" />
<rect x="724.20" y="78.00" width="29.20" height="40.60" rx="4.5" fill="url(#glass)" stroke="#353535" stroke-width="2.8" />
<rect x="725.80" y="79.60" width="26.00" height="37.40" rx="3" fill="none" stroke="#777" stroke-width="0.4" />
<path d="M769.2,78.4 L781.8,78.4 L783.2,118.2 L769.2,118.2 Q765.4,118.2 765.4,114.4 L765.4,82.2 Q765.4,78.4 769.2,78.4 Z" fill="url(#glass)" stroke="#353535" stroke-width="2.6" stroke-linejoin="round"/>
<path d="M530.6,69.4 Q534,63.8 548,61.4 Q575,55.4 610,54.4 L700,55.6 Q745,56.6 766,59.0 Q778,60.4 780.6,68 L782.6,69.6 L781.8,70.8 L538.6,70.9 L531,71.6 Q529.6,70.8 530.6,69.4 Z" fill="#fcfcfa" stroke="#55534f" stroke-width="0.55" />
<path d="M540,69 Q545,64.4 560,62 Q590,59.6 625,59.6 L760,62.4" fill="none" stroke="#a9a9a5" stroke-width="0.4" />
<path d="M540,68.6 L780,68.4" fill="none" stroke="#b9b9b5" stroke-width="0.35" />
<path d="M626,70 Q626,62 632,58" fill="none" stroke="#b7b7b3" stroke-width="0.35" />
<path d="M549.2,103 Q549.2,101.6 551,101.6 L553,101.4 Q554.4,101.4 554.4,103 L554.2,126.8 L556.4,126.8 L556.4,129 L553.4,129 L553.4,133.8 L550.6,133.8 L550.6,129 L547.2,129 L547.2,126.8 L549.4,126.8 Z" fill="#242424" stroke="none" stroke-width="0.5" />
<rect x="755.50" y="152.50" width="10.10" height="4.40" rx="0.5" fill="#f07d14" stroke="#c9600a" stroke-width="0.3" />
<rect x="780.60" y="181.40" width="1.40" height="5.20" rx="0" fill="#e01010" stroke="none" stroke-width="0.5" />
<rect x="783.40" y="190.60" width="1.80" height="8.40" rx="0" fill="#f07d14" stroke="none" stroke-width="0.5" />
<circle cx="436.40" cy="215.30" r="38.60" fill="#585858" stroke="#2c2c2c" stroke-width="0.9" />
<circle cx="436.40" cy="215.30" r="35.10" fill="none" stroke="#3b3b3b" stroke-width="6.2" stroke-dasharray="0.55 1.75"/>
<circle cx="436.40" cy="215.30" r="31.60" fill="#4f4f4f" stroke="#2f2f2f" stroke-width="0.6" />
<circle cx="436.40" cy="215.30" r="29.00" fill="none" stroke="#3c3c3c" stroke-width="0.45" />
<circle cx="436.40" cy="215.30" r="26.40" fill="none" stroke="#666" stroke-width="1.8" stroke-dasharray="0.7 1.1" opacity="0.45"/>
<circle cx="436.40" cy="215.30" r="24.00" fill="none" stroke="#3a3a3a" stroke-width="0.45" />
<circle cx="436.40" cy="215.30" r="21.60" fill="#dcd8cb" stroke="#4e4c48" stroke-width="0.9" />
<circle cx="436.40" cy="215.30" r="19.40" fill="#e5e1d5" stroke="#8e8b83" stroke-width="0.5" />
<circle cx="436.40" cy="215.30" r="17.20" fill="none" stroke="#a19e95" stroke-width="0.5" />
<circle cx="436.40" cy="215.30" r="14.60" fill="none" stroke="#b5b2a8" stroke-width="0.5" stroke-dasharray="5 3"/>
<circle cx="436.40" cy="215.30" r="10.80" fill="#cdc8bb" stroke="#85827a" stroke-width="0.6" />
<circle cx="443.74" cy="217.27" r="2.10" fill="#bdb8ab" stroke="#7a776f" stroke-width="0.45" />
<circle cx="438.37" cy="222.64" r="2.10" fill="#bdb8ab" stroke="#7a776f" stroke-width="0.45" />
<circle cx="431.03" cy="220.67" r="2.10" fill="#bdb8ab" stroke="#7a776f" stroke-width="0.45" />
<circle cx="429.06" cy="213.33" r="2.10" fill="#bdb8ab" stroke="#7a776f" stroke-width="0.45" />
<circle cx="434.43" cy="207.96" r="2.10" fill="#bdb8ab" stroke="#7a776f" stroke-width="0.45" />
<circle cx="441.77" cy="209.93" r="2.10" fill="#bdb8ab" stroke="#7a776f" stroke-width="0.45" />
<circle cx="436.40" cy="215.30" r="4.60" fill="#c8c3b6" stroke="#7e7b74" stroke-width="0.5" />
<circle cx="436.40" cy="215.30" r="1.50" fill="#f2f0ea" stroke="#7e7b74" stroke-width="0.4" />
<ellipse cx="425.4" cy="203.3" rx="2.3" ry="1.2" transform="rotate(-40 425.4 203.3)" fill="#f6f4ee" stroke="#55534e" stroke-width="0.5"/>
<circle cx="688.00" cy="215.30" r="38.60" fill="#585858" stroke="#2c2c2c" stroke-width="0.9" />
<circle cx="688.00" cy="215.30" r="35.10" fill="none" stroke="#3b3b3b" stroke-width="6.2" stroke-dasharray="0.55 1.75"/>
<circle cx="688.00" cy="215.30" r="31.60" fill="#4f4f4f" stroke="#2f2f2f" stroke-width="0.6" />
<circle cx="688.00" cy="215.30" r="29.00" fill="none" stroke="#3c3c3c" stroke-width="0.45" />
<circle cx="688.00" cy="215.30" r="26.40" fill="none" stroke="#666" stroke-width="1.8" stroke-dasharray="0.7 1.1" opacity="0.45"/>
<circle cx="688.00" cy="215.30" r="24.00" fill="none" stroke="#3a3a3a" stroke-width="0.45" />
<circle cx="688.00" cy="215.30" r="21.60" fill="#dcd8cb" stroke="#4e4c48" stroke-width="0.9" />
<circle cx="688.00" cy="215.30" r="19.40" fill="#e5e1d5" stroke="#8e8b83" stroke-width="0.5" />
<circle cx="688.00" cy="215.30" r="17.20" fill="none" stroke="#a19e95" stroke-width="0.5" />
<circle cx="688.00" cy="215.30" r="14.60" fill="none" stroke="#b5b2a8" stroke-width="0.5" stroke-dasharray="5 3"/>
<circle cx="688.00" cy="215.30" r="10.80" fill="#cdc8bb" stroke="#85827a" stroke-width="0.6" />
<circle cx="695.34" cy="217.27" r="2.10" fill="#bdb8ab" stroke="#7a776f" stroke-width="0.45" />
<circle cx="689.97" cy="222.64" r="2.10" fill="#bdb8ab" stroke="#7a776f" stroke-width="0.45" />
<circle cx="682.63" cy="220.67" r="2.10" fill="#bdb8ab" stroke="#7a776f" stroke-width="0.45" />
<circle cx="680.66" cy="213.33" r="2.10" fill="#bdb8ab" stroke="#7a776f" stroke-width="0.45" />
<circle cx="686.03" cy="207.96" r="2.10" fill="#bdb8ab" stroke="#7a776f" stroke-width="0.45" />
<circle cx="693.37" cy="209.93" r="2.10" fill="#bdb8ab" stroke="#7a776f" stroke-width="0.45" />
<circle cx="688.00" cy="215.30" r="4.60" fill="#c8c3b6" stroke="#7e7b74" stroke-width="0.5" />
<circle cx="688.00" cy="215.30" r="1.50" fill="#f2f0ea" stroke="#7e7b74" stroke-width="0.4" />
<ellipse cx="677.0" cy="203.3" rx="2.3" ry="1.2" transform="rotate(-40 677.0 203.3)" fill="#f6f4ee" stroke="#55534e" stroke-width="0.5"/></g><text x="472.0" y="345.2" font-size="38.4" fill="#161616" stroke="#161616" stroke-width="0.9" textLength="23.4" lengthAdjust="spacingAndGlyphs">T</text><path d="M502.8,317.2 L513.4,341.4 M526.4,318.2 L511.8,344.2" fill="none" stroke="#161616" stroke-width="4.4"/><path d="M506.8,341.2 L516.2,344.2 L509.0,347.6 Z" fill="#161616"/>
<text x="437.7" y="376.0" font-size="23.4" font-weight="bold" fill="#ae0d1d" stroke="#ae0d1d" stroke-width="1.7" stroke-linejoin="miter" textLength="87.8" lengthAdjust="spacingAndGlyphs">PRESS</text>
<text x="595.2" y="403.5" font-size="22.8" font-weight="bold" fill="#ae0d1d" stroke="#ae0d1d" stroke-width="2.0" stroke-linejoin="miter" textLength="32.4" lengthAdjust="spacingAndGlyphs">TV</text>
<rect x="536.20" y="384.20" width="11.20" height="16.20" rx="2" fill="#ebe7dd" stroke="#7b7973" stroke-width="0.5" />
<rect x="537.80" y="385.80" width="8.00" height="13.00" rx="1.4" fill="none" stroke="#7b7973" stroke-width="0.35" />
<circle cx="541.80" cy="388.20" r="0.90" fill="#5b74a8" stroke="none" stroke-width="0.5" />
<text x="597.4" y="415.1" font-size="9.2" font-weight="bold" fill="#ae0d1d" stroke="#ae0d1d" stroke-width="0.6" textLength="29.4" lengthAdjust="spacingAndGlyphs">PRESS</text></g>
<path d="M397,668 L519,668 L519,680 L397,680 Z" fill="#363636" stroke="none" stroke-width="0.5" />
<path d="M410,680 L506,680 L506,684 L486,686 Q478,692.8 462,692.8 Q446,692.8 432,686 L410,684 Z" fill="#363636" stroke="none" stroke-width="0.5" />
<rect x="400.00" y="672.00" width="9.60" height="20.00" rx="0" fill="#363636" stroke="none" stroke-width="0.5" />
<rect x="506.40" y="672.00" width="9.60" height="20.00" rx="0" fill="#363636" stroke="none" stroke-width="0.5" />
<rect x="401.00" y="684.00" width="12.00" height="14.00" rx="0" fill="#363636" stroke="none" stroke-width="0.5" />
<rect x="416.00" y="686.00" width="11.00" height="12.00" rx="0" fill="#363636" stroke="none" stroke-width="0.5" />
<rect x="489.00" y="686.00" width="11.00" height="12.00" rx="0" fill="#363636" stroke="none" stroke-width="0.5" />
<rect x="503.00" y="684.00" width="12.00" height="14.00" rx="0" fill="#363636" stroke="none" stroke-width="0.5" />
<rect x="398.60" y="696.20" width="17.00" height="4.20" rx="1" fill="#363636" stroke="none" stroke-width="0.5" />
<rect x="414.00" y="697.00" width="15.00" height="4.20" rx="1" fill="#363636" stroke="none" stroke-width="0.5" />
<rect x="487.00" y="697.00" width="15.00" height="4.20" rx="1" fill="#363636" stroke="none" stroke-width="0.5" />
<rect x="500.40" y="696.20" width="17.00" height="4.20" rx="1" fill="#363636" stroke="none" stroke-width="0.5" />
<rect x="374.20" y="641.00" width="22.00" height="75.80" rx="6" fill="#565656" stroke="#2c2c2c" stroke-width="0.8" />
<ellipse cx="380.4" cy="647.0" rx="3.7" ry="2.0" fill="#4e4e4e" stroke="#3a3a3a" stroke-width="0.5"/>
<ellipse cx="390.0" cy="651.0" rx="3.7" ry="2.0" fill="#4e4e4e" stroke="#3a3a3a" stroke-width="0.5"/>
<ellipse cx="380.4" cy="655.0" rx="3.7" ry="2.0" fill="#4e4e4e" stroke="#3a3a3a" stroke-width="0.5"/>
<ellipse cx="390.0" cy="659.0" rx="3.7" ry="2.0" fill="#4e4e4e" stroke="#3a3a3a" stroke-width="0.5"/>
<ellipse cx="380.4" cy="663.0" rx="3.7" ry="2.0" fill="#4e4e4e" stroke="#3a3a3a" stroke-width="0.5"/>
<ellipse cx="390.0" cy="666.9" rx="3.7" ry="2.0" fill="#4e4e4e" stroke="#3a3a3a" stroke-width="0.5"/>
<ellipse cx="380.4" cy="670.9" rx="3.7" ry="2.0" fill="#4e4e4e" stroke="#3a3a3a" stroke-width="0.5"/>
<ellipse cx="390.0" cy="674.9" rx="3.7" ry="2.0" fill="#4e4e4e" stroke="#3a3a3a" stroke-width="0.5"/>
<ellipse cx="380.4" cy="678.9" rx="3.7" ry="2.0" fill="#4e4e4e" stroke="#3a3a3a" stroke-width="0.5"/>
<ellipse cx="390.0" cy="682.9" rx="3.7" ry="2.0" fill="#4e4e4e" stroke="#3a3a3a" stroke-width="0.5"/>
<ellipse cx="380.4" cy="686.9" rx="3.7" ry="2.0" fill="#4e4e4e" stroke="#3a3a3a" stroke-width="0.5"/>
<ellipse cx="390.0" cy="690.9" rx="3.7" ry="2.0" fill="#4e4e4e" stroke="#3a3a3a" stroke-width="0.5"/>
<ellipse cx="380.4" cy="694.9" rx="3.7" ry="2.0" fill="#4e4e4e" stroke="#3a3a3a" stroke-width="0.5"/>
<ellipse cx="390.0" cy="698.8" rx="3.7" ry="2.0" fill="#4e4e4e" stroke="#3a3a3a" stroke-width="0.5"/>
<ellipse cx="380.4" cy="702.8" rx="3.7" ry="2.0" fill="#4e4e4e" stroke="#3a3a3a" stroke-width="0.5"/>
<ellipse cx="390.0" cy="706.8" rx="3.7" ry="2.0" fill="#4e4e4e" stroke="#3a3a3a" stroke-width="0.5"/>
<ellipse cx="380.4" cy="710.8" rx="3.7" ry="2.0" fill="#4e4e4e" stroke="#3a3a3a" stroke-width="0.5"/>
<path d="M385.2,643 L385.2,714.8" fill="none" stroke="#444" stroke-width="0.4" />
<rect x="519.60" y="641.00" width="22.00" height="75.80" rx="6" fill="#565656" stroke="#2c2c2c" stroke-width="0.8" />
<ellipse cx="525.8" cy="647.0" rx="3.7" ry="2.0" fill="#4e4e4e" stroke="#3a3a3a" stroke-width="0.5"/>
<ellipse cx="535.4" cy="651.0" rx="3.7" ry="2.0" fill="#4e4e4e" stroke="#3a3a3a" stroke-width="0.5"/>
<ellipse cx="525.8" cy="655.0" rx="3.7" ry="2.0" fill="#4e4e4e" stroke="#3a3a3a" stroke-width="0.5"/>
<ellipse cx="535.4" cy="659.0" rx="3.7" ry="2.0" fill="#4e4e4e" stroke="#3a3a3a" stroke-width="0.5"/>
<ellipse cx="525.8" cy="663.0" rx="3.7" ry="2.0" fill="#4e4e4e" stroke="#3a3a3a" stroke-width="0.5"/>
<ellipse cx="535.4" cy="666.9" rx="3.7" ry="2.0" fill="#4e4e4e" stroke="#3a3a3a" stroke-width="0.5"/>
<ellipse cx="525.8" cy="670.9" rx="3.7" ry="2.0" fill="#4e4e4e" stroke="#3a3a3a" stroke-width="0.5"/>
<ellipse cx="535.4" cy="674.9" rx="3.7" ry="2.0" fill="#4e4e4e" stroke="#3a3a3a" stroke-width="0.5"/>
<ellipse cx="525.8" cy="678.9" rx="3.7" ry="2.0" fill="#4e4e4e" stroke="#3a3a3a" stroke-width="0.5"/>
<ellipse cx="535.4" cy="682.9" rx="3.7" ry="2.0" fill="#4e4e4e" stroke="#3a3a3a" stroke-width="0.5"/>
<ellipse cx="525.8" cy="686.9" rx="3.7" ry="2.0" fill="#4e4e4e" stroke="#3a3a3a" stroke-width="0.5"/>
<ellipse cx="535.4" cy="690.9" rx="3.7" ry="2.0" fill="#4e4e4e" stroke="#3a3a3a" stroke-width="0.5"/>
<ellipse cx="525.8" cy="694.9" rx="3.7" ry="2.0" fill="#4e4e4e" stroke="#3a3a3a" stroke-width="0.5"/>
<ellipse cx="535.4" cy="698.8" rx="3.7" ry="2.0" fill="#4e4e4e" stroke="#3a3a3a" stroke-width="0.5"/>
<ellipse cx="525.8" cy="702.8" rx="3.7" ry="2.0" fill="#4e4e4e" stroke="#3a3a3a" stroke-width="0.5"/>
<ellipse cx="535.4" cy="706.8" rx="3.7" ry="2.0" fill="#4e4e4e" stroke="#3a3a3a" stroke-width="0.5"/>
<ellipse cx="525.8" cy="710.8" rx="3.7" ry="2.0" fill="#4e4e4e" stroke="#3a3a3a" stroke-width="0.5"/>
<path d="M530.6,643 L530.6,714.8" fill="none" stroke="#444" stroke-width="0.4" />
<path d="M369.4,532.8 L545.8,532.8 L545.8,669.6 L541.4,671 L541.4,650 Q541.4,640.6 532,640.6 L529,640.6 Q519.6,640.6 519.6,650 L519.6,660 L396.2,660 L396.2,650 Q396.2,640.6 386.8,640.6 L383.6,640.6 Q374.2,640.6 374.2,650 L374.2,671 L369.4,669.6 Z" fill="#e9e5da" stroke="#55534f" stroke-width="0.6" />
<path d="M368.4,533.2 Q367.8,529 374,526.4 Q410,518.2 457.6,518.2 Q505,518.2 541,526.4 Q547.4,529 546.8,533.2 L545.6,534.2 L369.6,534.2 Z" fill="#fcfcfa" stroke="#55534f" stroke-width="0.55" />
<path d="M396,532.6 Q397,523.8 410,521.8 L505,521.8 Q518,523.8 519,532.6" fill="none" stroke="#b1b1ad" stroke-width="0.4" />
<path d="M371,531.2 Q410,527.6 457.6,527.6 Q505,527.6 544,531.2" fill="none" stroke="#b1b1ad" stroke-width="0.4" />
<rect x="372.20" y="541.00" width="8.80" height="41.60" rx="1" fill="url(#glass)" stroke="#8e9199" stroke-width="0.4" />
<rect x="534.40" y="541.00" width="8.80" height="41.60" rx="1" fill="url(#glass)" stroke="#8e9199" stroke-width="0.4" />
<path d="M383.4,536 L383.4,600 M531.8,536 L531.8,600" fill="none" stroke="#7b7973" stroke-width="0.5" />
<path d="M370.8,540 L370.8,585 M544.6,540 L544.6,585" fill="none" stroke="#3a3a3a" stroke-width="1.0" />
<rect x="388.50" y="537.10" width="138.20" height="37.40" rx="5" fill="url(#glassw)" stroke="#353535" stroke-width="2.2" />
<path d="M395.6,573 L428.4,572.4 L440.4,579.6" fill="none" stroke="#2b2b2b" stroke-width="1.5" stroke-linejoin="round"/>
<path d="M457,573 L490,572.4 L502,579.6" fill="none" stroke="#2b2b2b" stroke-width="1.5" stroke-linejoin="round"/>
<path d="M384,577.6 L531.4,577.6" fill="none" stroke="#7b7973" stroke-width="0.5" />
<path d="M383.4,586 Q457.6,580 531.8,586" fill="none" stroke="#7b7973" stroke-width="0.4" />
<rect x="398.00" y="575.60" width="18.00" height="5.40" rx="1" fill="none" stroke="#7b7973" stroke-width="0.4" />
<path d="M390,612 Q392,598 410,594.6 Q457.6,588.6 505,594.6 Q523,598 525,612" fill="none" stroke="#7b7973" stroke-width="0.55" />
<path d="M396,607 Q420,596 457.6,595 Q495,596 519,607" fill="none" stroke="#7b7973" stroke-width="0.4" />
<path d="M398,600 Q406,592 420,594 M517,600 Q509,592 495,594" fill="none" stroke="#9c9a93" stroke-width="1.4" stroke-linecap="round"/>
<rect x="455.60" y="586.40" width="4.00" height="5.20" rx="0" fill="none" stroke="#7b7973" stroke-width="0.45" />
<rect x="429.40" y="587.60" width="6.40" height="3.60" rx="0.8" fill="#6f87b8" stroke="#3c4a6a" stroke-width="0.3" />
<rect x="478.60" y="587.60" width="6.40" height="3.60" rx="0.8" fill="#6f87b8" stroke="#3c4a6a" stroke-width="0.3" />
<path d="M369.6,607 L392,607 M523,607 L545.6,607" fill="none" stroke="#7b7973" stroke-width="0.5" />
<path d="M369.6,612.6 L404,612.6 M511,612.6 L545.6,612.6" fill="none" stroke="#7b7973" stroke-width="0.4" />
<path d="M411,613.4 L504,613.4 Q509,613.4 509,618 L509,634 Q509,639.6 504,639.6 L411,639.6 Q406,639.6 406,634 L406,618 Q406,613.4 411,613.4 Z" fill="#ece8de" stroke="#55534f" stroke-width="0.6" />
<path d="M430.2,610.2 Q457.5,601.8 484.8,610.2 Q485.6,611.6 484.4,611.8 Q457.5,610.4 430.6,611.8 Q429.4,611.6 430.2,610.2 Z" fill="#2e2e2e" stroke="#2e2e2e" stroke-width="0.8" stroke-linejoin="round"/>
<rect x="429.20" y="618.20" width="56.60" height="17.80" rx="2" fill="url(#mesh)" stroke="#262626" stroke-width="0.6" />
<circle cx="416.70" cy="626.20" r="8.50" fill="#d8d8d6" stroke="#77756f" stroke-width="0.6" />
<circle cx="416.70" cy="626.20" r="6.90" fill="#fdfdfd" stroke="#9d9b95" stroke-width="0.4" />
<circle cx="497.90" cy="626.20" r="8.50" fill="#d8d8d6" stroke="#77756f" stroke-width="0.6" />
<circle cx="497.90" cy="626.20" r="6.90" fill="#fdfdfd" stroke="#9d9b95" stroke-width="0.4" />
<path d="M413,655.6 L502,655.6 L502,660 L413,660 Z" fill="#2f2f2f" stroke="none" stroke-width="0.5" />
<path d="M406,640 L416,655.6 L499.4,655.6 L509,640" fill="none" stroke="#7b7973" stroke-width="0.5" />
<rect x="428.80" y="642.80" width="23.60" height="4.60" rx="1.6" fill="#2f2f2f" stroke="none" stroke-width="0" />
<rect x="462.20" y="642.80" width="23.60" height="4.60" rx="1.6" fill="#2f2f2f" stroke="none" stroke-width="0" />
<rect x="453.60" y="650.00" width="8.00" height="6.00" rx="0" fill="none" stroke="#7b7973" stroke-width="0.4" />
<path d="M406.6,641 L413.4,660 M419.4,641 L421.4,660 M508.8,641 L502,660 M496,641 L494,660" fill="none" stroke="#2d2d2d" stroke-width="1.8" />
<path d="M400.6,610 L400.6,600 M514.8,610 L514.8,600" fill="none" stroke="#7b7973" stroke-width="1.0" />
<rect x="381.50" y="615.00" width="14.60" height="10.60" rx="1.4" fill="#16306b" stroke="none" stroke-width="0" />
<rect x="382.90" y="616.80" width="11.80" height="7.00" rx="0.8" fill="#f07d14" stroke="none" stroke-width="0" />
<path d="M383.9,618.6 L388.8,622.4 L393.7,618.6" fill="none" stroke="#ffc078" stroke-width="0.6" />
<path d="M387.5,625.4 L390.1,625.4 L390.1,628 L391.9,629 L391.9,630.8 L385.7,630.8 L385.7,629 L387.5,628 Z" fill="#16306b" stroke="none" stroke-width="0.5" />
<rect x="519.00" y="615.00" width="14.60" height="10.60" rx="1.4" fill="#16306b" stroke="none" stroke-width="0" />
<rect x="520.40" y="616.80" width="11.80" height="7.00" rx="0.8" fill="#f07d14" stroke="none" stroke-width="0" />
<path d="M521.4,618.6 L526.3,622.4 L531.2,618.6" fill="none" stroke="#ffc078" stroke-width="0.6" />
<path d="M525.0,625.4 L527.6,625.4 L527.6,628 L529.4,629 L529.4,630.8 L523.2,630.8 L523.2,629 L525.0,628 Z" fill="#16306b" stroke="none" stroke-width="0.5" />
<rect x="356.20" y="564.60" width="14.20" height="21.40" rx="3.2" fill="#2e2e2e" stroke="#1c1c1c" stroke-width="0.5" />
<rect x="545.80" y="564.60" width="13.60" height="21.40" rx="3.2" fill="#2e2e2e" stroke="#1c1c1c" stroke-width="0.5" />
<path d="M366,586 L376.6,588 L376.6,596 M549.4,586 L539,588 L539,596" fill="none" stroke="#2b2b2b" stroke-width="1.3" />
<rect x="384.10" y="659.60" width="146.80" height="11.20" rx="0" fill="#3a3a3a" stroke="#2a2a2a" stroke-width="0.4" />
<path d="M422,659.6 L422,670.8 M494,659.6 L494,670.8" fill="none" stroke="#2a2a2a" stroke-width="0.4" />
<path d="M653,662 L778,662 L778,676 L653,676 Z" fill="#363636" stroke="none" stroke-width="0.5" />
<path d="M668,676 L764,676 L764,681 L750,684 Q742,692.4 728,692.4 Q713,692.4 706,685 L690,681 L668,681 Z" fill="#363636" stroke="none" stroke-width="0.5" />
<path d="M672,676 L686,690 L680,693 L668,680 Z M760,676 L746,690 L752,693 L764,680 Z" fill="#363636" stroke="none" stroke-width="0.5" />
<rect x="657.60" y="668.00" width="9.60" height="21.00" rx="0" fill="#363636" stroke="none" stroke-width="0.5" />
<rect x="764.60" y="668.00" width="9.60" height="21.00" rx="0" fill="#363636" stroke="none" stroke-width="0.5" />
<rect x="659.00" y="684.00" width="12.00" height="13.00" rx="0" fill="#363636" stroke="none" stroke-width="0.5" />
<rect x="676.00" y="686.00" width="11.00" height="11.00" rx="0" fill="#363636" stroke="none" stroke-width="0.5" />
<rect x="744.00" y="686.00" width="11.00" height="11.00" rx="0" fill="#363636" stroke="none" stroke-width="0.5" />
<rect x="760.00" y="684.00" width="12.00" height="13.00" rx="0" fill="#363636" stroke="none" stroke-width="0.5" />
<rect x="656.40" y="695.60" width="17.00" height="4.20" rx="1" fill="#363636" stroke="none" stroke-width="0.5" />
<rect x="674.00" y="696.60" width="15.00" height="4.20" rx="1" fill="#363636" stroke="none" stroke-width="0.5" />
<rect x="742.00" y="696.60" width="15.00" height="4.20" rx="1" fill="#363636" stroke="none" stroke-width="0.5" />
<rect x="757.60" y="695.60" width="17.00" height="4.20" rx="1" fill="#363636" stroke="none" stroke-width="0.5" />
<rect x="632.40" y="662.00" width="21.00" height="55.40" rx="6" fill="#565656" stroke="#2c2c2c" stroke-width="0.8" />
<ellipse cx="638.3" cy="668.0" rx="3.6" ry="2.0" fill="#4e4e4e" stroke="#3a3a3a" stroke-width="0.5"/>
<ellipse cx="647.5" cy="672.3" rx="3.6" ry="2.0" fill="#4e4e4e" stroke="#3a3a3a" stroke-width="0.5"/>
<ellipse cx="638.3" cy="676.7" rx="3.6" ry="2.0" fill="#4e4e4e" stroke="#3a3a3a" stroke-width="0.5"/>
<ellipse cx="647.5" cy="681.0" rx="3.6" ry="2.0" fill="#4e4e4e" stroke="#3a3a3a" stroke-width="0.5"/>
<ellipse cx="638.3" cy="685.4" rx="3.6" ry="2.0" fill="#4e4e4e" stroke="#3a3a3a" stroke-width="0.5"/>
<ellipse cx="647.5" cy="689.7" rx="3.6" ry="2.0" fill="#4e4e4e" stroke="#3a3a3a" stroke-width="0.5"/>
<ellipse cx="638.3" cy="694.0" rx="3.6" ry="2.0" fill="#4e4e4e" stroke="#3a3a3a" stroke-width="0.5"/>
<ellipse cx="647.5" cy="698.4" rx="3.6" ry="2.0" fill="#4e4e4e" stroke="#3a3a3a" stroke-width="0.5"/>
<ellipse cx="638.3" cy="702.7" rx="3.6" ry="2.0" fill="#4e4e4e" stroke="#3a3a3a" stroke-width="0.5"/>
<ellipse cx="647.5" cy="707.1" rx="3.6" ry="2.0" fill="#4e4e4e" stroke="#3a3a3a" stroke-width="0.5"/>
<ellipse cx="638.3" cy="711.4" rx="3.6" ry="2.0" fill="#4e4e4e" stroke="#3a3a3a" stroke-width="0.5"/>
<path d="M642.9,664 L642.9,715.4" fill="none" stroke="#444" stroke-width="0.4" />
<rect x="777.80" y="662.00" width="21.00" height="55.40" rx="6" fill="#565656" stroke="#2c2c2c" stroke-width="0.8" />
<ellipse cx="783.7" cy="668.0" rx="3.6" ry="2.0" fill="#4e4e4e" stroke="#3a3a3a" stroke-width="0.5"/>
<ellipse cx="792.9" cy="672.3" rx="3.6" ry="2.0" fill="#4e4e4e" stroke="#3a3a3a" stroke-width="0.5"/>
<ellipse cx="783.7" cy="676.7" rx="3.6" ry="2.0" fill="#4e4e4e" stroke="#3a3a3a" stroke-width="0.5"/>
<ellipse cx="792.9" cy="681.0" rx="3.6" ry="2.0" fill="#4e4e4e" stroke="#3a3a3a" stroke-width="0.5"/>
<ellipse cx="783.7" cy="685.4" rx="3.6" ry="2.0" fill="#4e4e4e" stroke="#3a3a3a" stroke-width="0.5"/>
<ellipse cx="792.9" cy="689.7" rx="3.6" ry="2.0" fill="#4e4e4e" stroke="#3a3a3a" stroke-width="0.5"/>
<ellipse cx="783.7" cy="694.0" rx="3.6" ry="2.0" fill="#4e4e4e" stroke="#3a3a3a" stroke-width="0.5"/>
<ellipse cx="792.9" cy="698.4" rx="3.6" ry="2.0" fill="#4e4e4e" stroke="#3a3a3a" stroke-width="0.5"/>
<ellipse cx="783.7" cy="702.7" rx="3.6" ry="2.0" fill="#4e4e4e" stroke="#3a3a3a" stroke-width="0.5"/>
<ellipse cx="792.9" cy="707.1" rx="3.6" ry="2.0" fill="#4e4e4e" stroke="#3a3a3a" stroke-width="0.5"/>
<ellipse cx="783.7" cy="711.4" rx="3.6" ry="2.0" fill="#4e4e4e" stroke="#3a3a3a" stroke-width="0.5"/>
<path d="M788.3,664 L788.3,715.4" fill="none" stroke="#444" stroke-width="0.4" />
<path d="M627.6,533.6 L804.2,533.6 L804.8,600 L804.2,663 L763,663 L763,667 L736,667 L736,663 L694,663 L694,667 L669,667 L669,663 L627.6,663 Z" fill="#e9e5da" stroke="#55534f" stroke-width="0.6" />
<path d="M626.4,534.2 Q625.8,530 632,527.4 Q668,518.6 715.9,518.6 Q764,518.6 800,527.4 Q806.0,530 805.4,534.2 L804.2,535.2 L627.6,535.2 Z" fill="#fcfcfa" stroke="#55534f" stroke-width="0.55" />
<path d="M645,533.4 Q646,524.4 659,522.4 L772,522.4 Q785,524.4 786,533.4" fill="none" stroke="#b1b1ad" stroke-width="0.4" />
<path d="M629,532.2 Q668,528.6 715.9,528.6 Q764,528.6 803,532.2" fill="none" stroke="#b1b1ad" stroke-width="0.4" />
<path d="M656.6,539 L656.6,663 M775.2,539 L775.2,663 M716,539.6 L716,663.6" fill="none" stroke="#7b7973" stroke-width="0.5" />
<path d="M659,539.6 L773,539.6" fill="none" stroke="#7b7973" stroke-width="0.4" />
<path d="M628,590 L804,590 M628,608 L804,608" fill="none" stroke="#aaa79f" stroke-width="0.4" />
<path d="M628,645 L804,645" fill="none" stroke="#7b7973" stroke-width="0.4" />
<rect x="722.60" y="607.60" width="42.40" height="33.00" rx="4" fill="none" stroke="#7b7973" stroke-width="0.5" />
<rect x="726.60" y="611.60" width="34.40" height="25.00" rx="3" fill="none" stroke="#7b7973" stroke-width="0.4" />
<path d="M732,622 L756,622 M744,614 L744,630 M737,626.6 L751,626.6" fill="none" stroke="#7b7973" stroke-width="0.5" />
<circle cx="733.60" cy="611.00" r="2.00" fill="none" stroke="#7b7973" stroke-width="0.45" />
<circle cx="749.60" cy="611.00" r="2.00" fill="none" stroke="#7b7973" stroke-width="0.45" />
<rect x="667.00" y="607.60" width="42.40" height="33.00" rx="4" fill="none" stroke="#7b7973" stroke-width="0.5" />
<rect x="764.00" y="558.00" width="6.40" height="9.60" rx="1" fill="none" stroke="#7b7973" stroke-width="0.45" />
<rect x="764.00" y="610.00" width="6.40" height="9.60" rx="1" fill="none" stroke="#7b7973" stroke-width="0.45" />
<rect x="655.00" y="558.00" width="5.00" height="9.60" rx="1" fill="none" stroke="#7b7973" stroke-width="0.45" />
<path d="M627.8,541.6 L644.4,541.6 Q648,541.6 648,545.2 L648,579 Q648,582.6 644.4,582.6 L627.8,582.6 Z" fill="url(#glass)" stroke="#353535" stroke-width="2.0" />
<path d="M804,541.6 L787.6,541.6 Q784,541.6 784,545.2 L784,579 Q784,582.6 787.6,582.6 L804,582.6 Z" fill="url(#glass)" stroke="#353535" stroke-width="2.0" />
<rect x="615.60" y="565.80" width="12.40" height="18.40" rx="3.4" fill="#a9bade" stroke="#353535" stroke-width="1.5" />
<rect x="803.80" y="565.80" width="12.40" height="18.40" rx="3.4" fill="#a9bade" stroke="#353535" stroke-width="1.5" />
<rect x="669.80" y="544.60" width="38.20" height="37.20" rx="4.2" fill="url(#glass)" stroke="#353535" stroke-width="2.6" />
<rect x="722.60" y="544.60" width="39.00" height="37.20" rx="4.2" fill="url(#glass)" stroke="#353535" stroke-width="2.6" />
<path d="M677.7,553.2 L701.2,553.2 M689.4,553.2 L689.4,583" fill="none" stroke="#161616" stroke-width="4.4" />
<path d="M731.8,551.4 L743.2,575.6 M755.0,552.2 L742.4,578.6" fill="none" stroke="#161616" stroke-width="4.3" />
<path d="M737.4,575.0 L747.4,578.0 L740.2,581.4 Z" fill="#161616" stroke="none" stroke-width="0.5" />
<text x="728.0" y="602.8" font-size="22.6" font-weight="bold" fill="#ae0d1d" stroke="#ae0d1d" stroke-width="2.0" stroke-linejoin="miter" textLength="31.4" lengthAdjust="spacingAndGlyphs">TV</text>
<rect x="718.40" y="596.80" width="12.80" height="3.00" rx="1.4" fill="#7d95c6" stroke="#3c4a6a" stroke-width="0.3" />
<circle cx="632.90" cy="649.60" r="2.00" fill="#e01010" stroke="#a00" stroke-width="0.3" />
<circle cx="798.30" cy="649.60" r="2.00" fill="#e01010" stroke="#a00" stroke-width="0.3" />
<rect x="626.60" y="616.00" width="1.60" height="4.60" rx="0" fill="#f07d14" stroke="none" stroke-width="0.5" />
<rect x="803.60" y="616.00" width="1.60" height="4.60" rx="0" fill="#f07d14" stroke="none" stroke-width="0.5" />
<rect x="636.40" y="652.40" width="28.40" height="9.60" rx="3" fill="#fff" stroke="#7b7973" stroke-width="0.5" />
<path d="M639.4,653.2 L646,653.2 L646,661.2 L639.4,661.2 Q637.4,661.2 637.4,659 L637.4,655.4 Q637.4,653.2 639.4,653.2 Z" fill="#f08010" stroke="none" stroke-width="0.5" />
<rect x="646.00" y="653.20" width="13.20" height="8.00" rx="0" fill="#f41414" stroke="none" stroke-width="0.5" />
<rect x="765.60" y="652.40" width="28.40" height="9.60" rx="3" fill="#fff" stroke="#7b7973" stroke-width="0.5" />
<path d="M790.8,653.2 L784.4,653.2 L784.4,661.2 L790.8,661.2 Q792.8,661.2 792.8,659 L792.8,655.4 Q792.8,653.2 790.8,653.2 Z" fill="#f08010" stroke="none" stroke-width="0.5" />
<rect x="771.20" y="653.20" width="13.20" height="8.00" rx="0" fill="#f41414" stroke="none" stroke-width="0.5" />
<rect x="694.00" y="663.00" width="42.00" height="6.00" rx="0" fill="#3a3a3a" stroke="none" stroke-width="0.5" />
<path d="M676,628 L700,640 L706,648 L700,652 L672,640 Z" fill="#e9e5da" stroke="#7b7973" stroke-width="0.5" />
<path d="M697.6,636 L703.6,640 M699.6,633 L705.6,637" fill="none" stroke="#4b66a6" stroke-width="1.6" />
<circle cx="665.50" cy="602.00" r="39.00" fill="#585858" stroke="#2c2c2c" stroke-width="0.9" />
<circle cx="665.50" cy="602.00" r="35.50" fill="none" stroke="#3b3b3b" stroke-width="6.2" stroke-dasharray="0.55 1.75"/>
<circle cx="665.50" cy="602.00" r="32.00" fill="#4f4f4f" stroke="#2f2f2f" stroke-width="0.6" />
<circle cx="665.50" cy="602.00" r="29.40" fill="none" stroke="#3c3c3c" stroke-width="0.45" />
<circle cx="665.50" cy="602.00" r="26.80" fill="none" stroke="#666" stroke-width="1.8" stroke-dasharray="0.7 1.1" opacity="0.45"/>
<circle cx="665.50" cy="602.00" r="24.40" fill="none" stroke="#3a3a3a" stroke-width="0.45" />
<circle cx="665.50" cy="602.00" r="21.60" fill="#dcd8cb" stroke="#4e4c48" stroke-width="0.9" />
<circle cx="665.50" cy="602.00" r="19.40" fill="#e5e1d5" stroke="#8e8b83" stroke-width="0.5" />
<circle cx="665.50" cy="602.00" r="17.20" fill="none" stroke="#a19e95" stroke-width="0.5" />
<circle cx="665.50" cy="602.00" r="14.60" fill="none" stroke="#b5b2a8" stroke-width="0.5" stroke-dasharray="5 3"/>
<circle cx="665.50" cy="602.00" r="10.80" fill="#cdc8bb" stroke="#85827a" stroke-width="0.6" />
<circle cx="672.84" cy="603.97" r="2.10" fill="#bdb8ab" stroke="#7a776f" stroke-width="0.45" />
<circle cx="667.47" cy="609.34" r="2.10" fill="#bdb8ab" stroke="#7a776f" stroke-width="0.45" />
<circle cx="660.13" cy="607.37" r="2.10" fill="#bdb8ab" stroke="#7a776f" stroke-width="0.45" />
<circle cx="658.16" cy="600.03" r="2.10" fill="#bdb8ab" stroke="#7a776f" stroke-width="0.45" />
<circle cx="663.53" cy="594.66" r="2.10" fill="#bdb8ab" stroke="#7a776f" stroke-width="0.45" />
<circle cx="670.87" cy="596.63" r="2.10" fill="#bdb8ab" stroke="#7a776f" stroke-width="0.45" />
<circle cx="665.50" cy="602.00" r="4.60" fill="#c8c3b6" stroke="#7e7b74" stroke-width="0.5" />
<circle cx="665.50" cy="602.00" r="1.50" fill="#f2f0ea" stroke="#7e7b74" stroke-width="0.4" />
<ellipse cx="654.5" cy="590.0" rx="2.3" ry="1.2" transform="rotate(-40 654.5 590.0)" fill="#f6f4ee" stroke="#55534e" stroke-width="0.5"/>
<path d="M361.6,787 Q365.8,789 365,797 Q361.4,830 361.2,861 Q361.4,892 365,925 Q365.8,933 361.6,934.8 Q354.4,905 354,861 Q354.4,817 361.6,787 Z" fill="#363636" stroke="#262626" stroke-width="0.4" />
<path d="M361,813.2 L377.8,821.3 L390.4,821.3 L390.4,829.4 L377.8,829.4 L361,836.6 Z" fill="#363636" stroke="none" stroke-width="0.5" />
<path d="M361,907.7 L377.8,899.6 L390.4,899.6 L390.4,891.5 L377.8,891.5 L361,885.2 Z" fill="#363636" stroke="none" stroke-width="0.5" />
<path d="M772,806 L778,806 L778,800 L781,800 L781,812 L776,812 L776,846 L781,846 L781,852 L772,852 Z" fill="#e9e5da" stroke="#7b7973" stroke-width="0.5" />
<path d="M777,813.4 L787.4,813.4 Q792,813.4 792,818 L792,839.4 Q792,844 787.4,844 L777,844 L777,839.6 L786.2,839.6 Q787.8,839.6 787.8,838 L787.8,819.4 Q787.8,817.8 786.2,817.8 L777,817.8 Z" fill="#e9e5da" stroke="#7b7973" stroke-width="0.5" />
<rect x="777.40" y="823.40" width="6.60" height="7.20" rx="1" fill="#e9e5da" stroke="#7b7973" stroke-width="0.45" />
<path d="M772,866 L778,866 L780,870 L780,884 L787.4,884 L787.4,930 L781,930 L781,941 L776,941 L776,946 L772,946 Z" fill="#e9e5da" stroke="#7b7973" stroke-width="0.5" />
<rect x="787.40" y="870.20" width="22.40" height="80.00" rx="8" fill="#565656" stroke="#2c2c2c" stroke-width="0.8" />
<ellipse cx="793.7" cy="876.2" rx="3.8" ry="2.0" fill="#4e4e4e" stroke="#3a3a3a" stroke-width="0.5"/>
<ellipse cx="803.5" cy="880.5" rx="3.8" ry="2.0" fill="#4e4e4e" stroke="#3a3a3a" stroke-width="0.5"/>
<ellipse cx="793.7" cy="884.7" rx="3.8" ry="2.0" fill="#4e4e4e" stroke="#3a3a3a" stroke-width="0.5"/>
<ellipse cx="803.5" cy="889.0" rx="3.8" ry="2.0" fill="#4e4e4e" stroke="#3a3a3a" stroke-width="0.5"/>
<ellipse cx="793.7" cy="893.2" rx="3.8" ry="2.0" fill="#4e4e4e" stroke="#3a3a3a" stroke-width="0.5"/>
<ellipse cx="803.5" cy="897.5" rx="3.8" ry="2.0" fill="#4e4e4e" stroke="#3a3a3a" stroke-width="0.5"/>
<ellipse cx="793.7" cy="901.7" rx="3.8" ry="2.0" fill="#4e4e4e" stroke="#3a3a3a" stroke-width="0.5"/>
<ellipse cx="803.5" cy="906.0" rx="3.8" ry="2.0" fill="#4e4e4e" stroke="#3a3a3a" stroke-width="0.5"/>
<ellipse cx="793.7" cy="910.2" rx="3.8" ry="2.0" fill="#4e4e4e" stroke="#3a3a3a" stroke-width="0.5"/>
<ellipse cx="803.5" cy="914.5" rx="3.8" ry="2.0" fill="#4e4e4e" stroke="#3a3a3a" stroke-width="0.5"/>
<ellipse cx="793.7" cy="918.7" rx="3.8" ry="2.0" fill="#4e4e4e" stroke="#3a3a3a" stroke-width="0.5"/>
<ellipse cx="803.5" cy="923.0" rx="3.8" ry="2.0" fill="#4e4e4e" stroke="#3a3a3a" stroke-width="0.5"/>
<ellipse cx="793.7" cy="927.2" rx="3.8" ry="2.0" fill="#4e4e4e" stroke="#3a3a3a" stroke-width="0.5"/>
<ellipse cx="803.5" cy="931.5" rx="3.8" ry="2.0" fill="#4e4e4e" stroke="#3a3a3a" stroke-width="0.5"/>
<ellipse cx="793.7" cy="935.7" rx="3.8" ry="2.0" fill="#4e4e4e" stroke="#3a3a3a" stroke-width="0.5"/>
<ellipse cx="803.5" cy="940.0" rx="3.8" ry="2.0" fill="#4e4e4e" stroke="#3a3a3a" stroke-width="0.5"/>
<ellipse cx="793.7" cy="944.2" rx="3.8" ry="2.0" fill="#4e4e4e" stroke="#3a3a3a" stroke-width="0.5"/>
<path d="M798.6,872.2 L798.6,948.2" fill="none" stroke="#444" stroke-width="0.4" />
<path d="M770.4,776 Q775,781 775,797 L773,797 Q773,783 769,778 Z" fill="#e22" stroke="none" stroke-width="0.5" />
<rect x="773.20" y="781.00" width="2.00" height="10.00" rx="0" fill="#f07d14" stroke="none" stroke-width="0.5" />
<path d="M770.4,945 Q775,940 775,924 L773,924 Q773,938 769,943 Z" fill="#e22" stroke="none" stroke-width="0.5" />
<rect x="773.20" y="930.00" width="2.00" height="8.00" rx="0" fill="#f07d14" stroke="none" stroke-width="0.5" />
<path d="M505,773.2 L612,773.2 L612,786 L505,786 Z" fill="url(#tread)" stroke="#97938a" stroke-width="0.4" />
<path d="M505,935 L612,935 L612,947.8 L505,947.8 Z" fill="url(#tread)" stroke="#97938a" stroke-width="0.4" />
<rect x="389.00" y="773.00" width="116.20" height="175.00" rx="4" fill="#e9e5da" stroke="#55534f" stroke-width="0.6" />
<path d="M407,805 L407,782 Q407,775.6 413.5,775.6 Q420,775.6 420,782 L420,800" fill="none" stroke="#b5b1a7" stroke-width="0.5" />
<path d="M407,916 L407,939 Q407,945.4 413.5,945.4 Q420,945.4 420,939 L420,921" fill="none" stroke="#b5b1a7" stroke-width="0.5" />
<path d="M456.6,805 L456.6,782 Q456.6,775.6 464.3,775.6 Q472,775.6 472,782 L472,800" fill="none" stroke="#b5b1a7" stroke-width="0.5" />
<path d="M456.6,916 L456.6,939 Q456.6,945.4 464.3,945.4 Q472,945.4 472,939 L472,921" fill="none" stroke="#b5b1a7" stroke-width="0.5" />
<path d="M505,790 L523,790 L523,931 L505,931 Z" fill="#e9e5da" stroke="#7b7973" stroke-width="0.5" />
<path d="M394,809.6 L505,789.6 L513,789.6 L513,931.4 L505,931.4 L394,911.4 Q389.6,905 389.4,893 L389.4,828 Q389.6,816 394,809.6 Z" fill="#ebe7dd" stroke="#55534f" stroke-width="0.55" />
<path d="M392.6,813.6 L497,794.6 L497,926.4 L392.6,907.4" fill="none" stroke="#7b7973" stroke-width="0.45" />
<path d="M394,826.6 L497,807 M394,894.4 L497,914" fill="none" stroke="#8d8a83" stroke-width="0.7" />
<path d="M395,830 L395,891 M398.6,818 L398.6,903" fill="none" stroke="#b5b1a7" stroke-width="0.5" />
<path d="M402,858.6 L489,858.6 Q492,860.5 489,862.4 L402,862.4 Q399.6,860.5 402,858.6 Z" fill="none" stroke="#9f9c94" stroke-width="0.5" />
<path d="M461.6,799.6 L461.6,811.6 M461.6,909.4 L461.6,921.4" fill="none" stroke="#6b6963" stroke-width="0.7" />
<path d="M464.3,799.6 L464.3,811.6 M464.3,909.4 L464.3,921.4" fill="none" stroke="#6b6963" stroke-width="0.7" />
<path d="M467.0,799.6 L467.0,811.6 M467.0,909.4 L467.0,921.4" fill="none" stroke="#6b6963" stroke-width="0.7" />
<path d="M469.7,799.6 L469.7,811.6 M469.7,909.4 L469.7,921.4" fill="none" stroke="#6b6963" stroke-width="0.7" />
<path d="M472.4,799.6 L472.4,811.6 M472.4,909.4 L472.4,921.4" fill="none" stroke="#6b6963" stroke-width="0.7" />
<path d="M475.1,799.6 L475.1,811.6 M475.1,909.4 L475.1,921.4" fill="none" stroke="#6b6963" stroke-width="0.7" />
<path d="M477.8,799.6 L477.8,811.6 M477.8,909.4 L477.8,921.4" fill="none" stroke="#6b6963" stroke-width="0.7" />
<path d="M480.5,799.6 L480.5,811.6 M480.5,909.4 L480.5,921.4" fill="none" stroke="#6b6963" stroke-width="0.7" />
<rect x="460.40" y="798.60" width="21.40" height="14.00" rx="1" fill="none" stroke="#7b7973" stroke-width="0.35" />
<rect x="460.40" y="908.40" width="21.40" height="14.00" rx="1" fill="none" stroke="#7b7973" stroke-width="0.35" />
<ellipse cx="497.4" cy="824.6" rx="8" ry="2.7" fill="#e3dfd4" stroke="#7b7973" stroke-width="0.45"/>
<ellipse cx="497.4" cy="824.6" rx="3.4" ry="1.4" fill="none" stroke="#7b7973" stroke-width="0.4"/>
<ellipse cx="497.4" cy="896.4" rx="8" ry="2.7" fill="#e3dfd4" stroke="#7b7973" stroke-width="0.45"/>
<ellipse cx="497.4" cy="896.4" rx="3.4" ry="1.4" fill="none" stroke="#7b7973" stroke-width="0.4"/>
<rect x="499.60" y="838.20" width="13.00" height="45.00" rx="4" fill="#dcd8cc" stroke="#7b7973" stroke-width="0.5" />
<path d="M501.6,842.0 L510.6,842.0" fill="none" stroke="#8b8881" stroke-width="0.5" />
<path d="M501.6,845.4 L510.6,845.4" fill="none" stroke="#8b8881" stroke-width="0.5" />
<path d="M501.6,848.8 L510.6,848.8" fill="none" stroke="#8b8881" stroke-width="0.5" />
<path d="M501.6,852.2 L510.6,852.2" fill="none" stroke="#8b8881" stroke-width="0.5" />
<path d="M501.6,855.6 L510.6,855.6" fill="none" stroke="#8b8881" stroke-width="0.5" />
<path d="M501.6,859.0 L510.6,859.0" fill="none" stroke="#8b8881" stroke-width="0.5" />
<path d="M501.6,862.4 L510.6,862.4" fill="none" stroke="#8b8881" stroke-width="0.5" />
<path d="M501.6,865.8 L510.6,865.8" fill="none" stroke="#8b8881" stroke-width="0.5" />
<path d="M501.6,869.2 L510.6,869.2" fill="none" stroke="#8b8881" stroke-width="0.5" />
<path d="M501.6,872.6 L510.6,872.6" fill="none" stroke="#8b8881" stroke-width="0.5" />
<path d="M501.6,876.0 L510.6,876.0" fill="none" stroke="#8b8881" stroke-width="0.5" />
<path d="M501.6,879.4 L510.6,879.4" fill="none" stroke="#8b8881" stroke-width="0.5" />
<path d="M516.4,814 L514.6,842 M516.6,860 L514.2,904" fill="none" stroke="#2b2b2b" stroke-width="1.5" />
<path d="M519.4,796 L519.4,928" fill="none" stroke="#333" stroke-width="1.0" />
<path d="M447,836.4 L460.4,836.4" fill="none" stroke="#222" stroke-width="0.7" />
<rect x="447.00" y="834.50" width="1.60" height="3.80" rx="0" fill="#222" stroke="none" stroke-width="0.5" />
<rect x="458.40" y="833.90" width="2.20" height="5.00" rx="0" fill="#222" stroke="none" stroke-width="0.5" />
<rect x="451.00" y="834.40" width="5.00" height="4.00" rx="0.8" fill="#6f87b8" stroke="#3c4a6a" stroke-width="0.3" />
<path d="M447,884.2 L460.4,884.2" fill="none" stroke="#222" stroke-width="0.7" />
<rect x="447.00" y="882.30" width="1.60" height="3.80" rx="0" fill="#222" stroke="none" stroke-width="0.5" />
<rect x="458.40" y="881.70" width="2.20" height="5.00" rx="0" fill="#222" stroke="none" stroke-width="0.5" />
<rect x="451.00" y="882.20" width="5.00" height="4.00" rx="0.8" fill="#6f87b8" stroke="#3c4a6a" stroke-width="0.3" />
<rect x="404.40" y="800.80" width="2.60" height="3.40" rx="0" fill="#6f87b8" stroke="#3c4a6a" stroke-width="0.3" />
<rect x="404.40" y="917.00" width="2.60" height="3.40" rx="0" fill="#6f87b8" stroke="#3c4a6a" stroke-width="0.3" />
<rect x="391.00" y="785.20" width="9.00" height="12.00" rx="2" fill="#16306b" stroke="#0c1c44" stroke-width="0.3" />
<rect x="391.00" y="923.40" width="9.00" height="12.00" rx="2" fill="#16306b" stroke="#0c1c44" stroke-width="0.3" />
<rect x="538.40" y="759.40" width="5.40" height="21.60" rx="1" fill="#2b2b2b" stroke="none" stroke-width="0" />
<rect x="538.40" y="939.40" width="5.40" height="21.20" rx="1" fill="#2b2b2b" stroke="none" stroke-width="0" />
<path d="M521.4,797 Q521.4,784.6 533.6,783.4 L600,774.6 L613,772.2 L758,772.2 Q771.6,772.2 771.6,786 L771.6,935 Q771.6,948.8 758,948.8 L613,948.8 L600,946.4 L533.6,937.6 Q521.4,936.4 521.4,924 Z" fill="#fdfdfc" stroke="#55534f" stroke-width="0.6" />
<path d="M524,800 Q524,789 535,787.6 L613,777.6 L613,772.4 M524,921 Q524,932 535,933.4 L613,943.4 L613,948.6" fill="none" stroke="#b9b9b5" stroke-width="0.4" />
<path d="M533.6,783.8 L542.4,803 L542.4,918 L533.6,937.2 M542.4,803 L613,792.6 L757,792.6 L757,928.4 L613,928.4 L542.4,918" fill="none" stroke="#b9b9b5" stroke-width="0.45" />
<path d="M757,792.6 L768.4,778 M757,928.4 L768.4,943 M757,772.4 L757,792.6 M757,928.4 L757,948.6 M613,777.6 L616,792.6 M613,943.4 L616,928.4" fill="none" stroke="#c4c4c0" stroke-width="0.4" />
<path d="M772.6,812.4 L772.6,854.4 M772.6,866.4 L772.6,912" fill="none" stroke="#2b2b2b" stroke-width="1.6" />
<path d="M590,821.4 L613.2,821.4 L637,895 L614.3,895 L602.2,847.8 L588.6,895 L566,895 Z" fill="#ae0d1d" stroke="none" stroke-width="0.5" />
<path d="M691.9,821.5 L715.2,821.5 L715.2,876 L735.8,876 L735.8,894.8 L671.3,894.8 L671.3,876 L691.9,876 Z" fill="#ae0d1d" stroke="none" stroke-width="0.5" />
<text transform="translate(410.2,846.2) rotate(90)" font-size="23.6" font-weight="bold" fill="#ae0d1d" stroke="#ae0d1d" stroke-width="2.0" stroke-linejoin="miter" textLength="31.6" lengthAdjust="spacingAndGlyphs">TV</text>
<text transform="translate(436.0,825.8) rotate(90)" font-size="9.6" fill="#1d1d1b" textLength="69.2" lengthAdjust="spacingAndGlyphs">FOREIGN PRESS</text>
<path d="M445.6,68.0 L415.0,142.0" fill="none" stroke="#4a4a49" stroke-width="0.65"/>
<path d="M445.6,68.0 L464.4,124.0" fill="none" stroke="#4a4a49" stroke-width="0.65"/>
<rect x="442.40" y="43.00" width="6.6" height="25.2" fill="#b2b2b2"/>
<text transform="translate(438.20,54.40) scale(0.692,1)" font-size="10.3" font-weight="bold" font-style="normal" text-anchor="end" fill="#1d1d1b" stroke="#1d1d1b" stroke-width="0.42">STEEL</text>
<text transform="translate(438.20,63.10) scale(0.757,1)" font-size="9.8" font-weight="normal" font-style="normal" text-anchor="end" fill="#2b2b2a" stroke="#2b2b2a" stroke-width="0.22">AK476</text>
<path d="M471.0,69.0 L500.5,130.0" fill="none" stroke="#4a4a49" stroke-width="0.65"/>
<rect x="467.60" y="44.00" width="6.6" height="25.2" fill="#e6dcc8"/>
<text transform="translate(478.20,51.00) scale(0.692,1)" font-size="10.3" font-weight="bold" font-style="normal" text-anchor="start" fill="#1d1d1b" stroke="#1d1d1b" stroke-width="0.42">CREAM</text>
<text transform="translate(478.20,60.10) scale(0.757,1)" font-size="9.8" font-weight="normal" font-style="normal" text-anchor="start" fill="#2b2b2a" stroke="#2b2b2a" stroke-width="0.22">RC002</text>
<text transform="translate(478.20,69.00) scale(0.757,1)" font-size="9.8" font-weight="normal" font-style="normal" text-anchor="start" fill="#2b2b2a" stroke="#2b2b2a" stroke-width="0.22">AK11032</text>
<path d="M382.0,107.6 L404.0,151.0" fill="none" stroke="#4a4a49" stroke-width="0.65"/>
<rect x="378.00" y="82.40" width="6.6" height="25.2" fill="#132c62"/>
<text transform="translate(373.80,89.40) scale(0.692,1)" font-size="10.3" font-weight="bold" font-style="normal" text-anchor="end" fill="#1d1d1b" stroke="#1d1d1b" stroke-width="0.42">DARK BLUE</text>
<text transform="translate(373.80,98.50) scale(0.757,1)" font-size="9.8" font-weight="normal" font-style="normal" text-anchor="end" fill="#2b2b2a" stroke="#2b2b2a" stroke-width="0.22">RC011</text>
<text transform="translate(373.80,107.40) scale(0.757,1)" font-size="9.8" font-weight="normal" font-style="normal" text-anchor="end" fill="#2b2b2a" stroke="#2b2b2a" stroke-width="0.22">AK11186</text>
<path d="M384.4,151.4 L400.0,156.6" fill="none" stroke="#4a4a49" stroke-width="0.65"/>
<rect x="378.00" y="139.00" width="6.6" height="25.2" fill="#e8941a"/>
<text transform="translate(373.80,146.00) scale(0.692,1)" font-size="10.3" font-weight="bold" font-style="normal" text-anchor="end" fill="#1d1d1b" stroke="#1d1d1b" stroke-width="0.42">CLEAR ORANGE</text>
<text transform="translate(373.80,155.10) scale(0.757,1)" font-size="9.8" font-weight="normal" font-style="normal" text-anchor="end" fill="#2b2b2a" stroke="#2b2b2a" stroke-width="0.22">RC506</text>
<text transform="translate(373.80,164.00) scale(0.757,1)" font-size="9.8" font-weight="normal" font-style="normal" text-anchor="end" fill="#2b2b2a" stroke="#2b2b2a" stroke-width="0.22">AK11218</text>
<path d="M380.0,243.0 L383.6,213.0" fill="none" stroke="#4a4a49" stroke-width="0.65"/>
<rect x="377.00" y="243.00" width="6.6" height="25.2" fill="#3c3c3b"/>
<text transform="translate(372.80,250.00) scale(0.692,1)" font-size="10.3" font-weight="bold" font-style="normal" text-anchor="end" fill="#1d1d1b" stroke="#1d1d1b" stroke-width="0.42">FLAT BLACK</text>
<text transform="translate(372.80,259.10) scale(0.757,1)" font-size="9.8" font-weight="normal" font-style="normal" text-anchor="end" fill="#2b2b2a" stroke="#2b2b2a" stroke-width="0.22">RC001</text>
<text transform="translate(372.80,268.00) scale(0.757,1)" font-size="9.8" font-weight="normal" font-style="normal" text-anchor="end" fill="#2b2b2a" stroke="#2b2b2a" stroke-width="0.22">AK11029</text>
<path d="M793.6,41.0 L753.0,64.0" fill="none" stroke="#4a4a49" stroke-width="0.65"/>
<rect x="793.80" y="27.20" width="6.6" height="25.2" fill="#fff" stroke="#1d1d1b" stroke-width="0.7"/>
<text transform="translate(804.40,34.20) scale(0.692,1)" font-size="10.3" font-weight="bold" font-style="normal" text-anchor="start" fill="#1d1d1b" stroke="#1d1d1b" stroke-width="0.42">WHITE</text>
<text transform="translate(804.40,43.30) scale(0.757,1)" font-size="9.8" font-weight="normal" font-style="normal" text-anchor="start" fill="#2b2b2a" stroke="#2b2b2a" stroke-width="0.22">RC004</text>
<text transform="translate(804.40,52.20) scale(0.757,1)" font-size="9.8" font-weight="normal" font-style="normal" text-anchor="start" fill="#2b2b2a" stroke="#2b2b2a" stroke-width="0.22">AK11001</text>
<path d="M781.0,228.6 L763.6,158.0" fill="none" stroke="#4a4a49" stroke-width="0.65"/>
<rect x="778.20" y="228.80" width="6.6" height="25.2" fill="#e8941a"/>
<text transform="translate(788.80,235.80) scale(0.692,1)" font-size="10.3" font-weight="bold" font-style="normal" text-anchor="start" fill="#1d1d1b" stroke="#1d1d1b" stroke-width="0.42">CLEAR ORANGE</text>
<text transform="translate(788.80,244.90) scale(0.757,1)" font-size="9.8" font-weight="normal" font-style="normal" text-anchor="start" fill="#2b2b2a" stroke="#2b2b2a" stroke-width="0.22">RC506</text>
<text transform="translate(788.80,253.80) scale(0.757,1)" font-size="9.8" font-weight="normal" font-style="normal" text-anchor="start" fill="#2b2b2a" stroke="#2b2b2a" stroke-width="0.22">AK11218</text>
<path d="M778.0,282.0 L718.0,243.0" fill="none" stroke="#4a4a49" stroke-width="0.65"/>
<rect x="778.20" y="271.00" width="6.6" height="25.2" fill="#646464"/>
<text transform="translate(788.80,278.00) scale(0.692,1)" font-size="10.3" font-weight="bold" font-style="normal" text-anchor="start" fill="#1d1d1b" stroke="#1d1d1b" stroke-width="0.42">TIRE BLACK</text>
<text transform="translate(788.80,287.10) scale(0.757,1)" font-size="9.8" font-weight="normal" font-style="normal" text-anchor="start" fill="#2b2b2a" stroke="#2b2b2a" stroke-width="0.22">RC022</text>
<text transform="translate(788.80,296.00) scale(0.757,1)" font-size="9.8" font-weight="normal" font-style="normal" text-anchor="start" fill="#2b2b2a" stroke="#2b2b2a" stroke-width="0.22">AK11027</text>
<path d="M706.5,309.0 L712.0,356.0" fill="none" stroke="#4a4a49" stroke-width="0.65"/>
<path d="M706.5,309.0 L758.6,374.0" fill="none" stroke="#4a4a49" stroke-width="0.65"/>
<rect x="703.20" y="284.00" width="6.6" height="25.2" fill="#b2b2b2"/>
<text transform="translate(699.00,295.40) scale(0.692,1)" font-size="10.3" font-weight="bold" font-style="normal" text-anchor="end" fill="#1d1d1b" stroke="#1d1d1b" stroke-width="0.42">STEEL</text>
<text transform="translate(699.00,304.10) scale(0.757,1)" font-size="9.8" font-weight="normal" font-style="normal" text-anchor="end" fill="#2b2b2a" stroke="#2b2b2a" stroke-width="0.22">AK476</text>
<path d="M781.5,353.6 L771.0,382.0" fill="none" stroke="#4a4a49" stroke-width="0.65"/>
<rect x="778.20" y="328.40" width="6.6" height="25.2" fill="#132c62"/>
<text transform="translate(788.80,335.40) scale(0.692,1)" font-size="10.3" font-weight="bold" font-style="normal" text-anchor="start" fill="#1d1d1b" stroke="#1d1d1b" stroke-width="0.42">DARK BLUE</text>
<text transform="translate(788.80,344.50) scale(0.757,1)" font-size="9.8" font-weight="normal" font-style="normal" text-anchor="start" fill="#2b2b2a" stroke="#2b2b2a" stroke-width="0.22">RC011</text>
<text transform="translate(788.80,353.40) scale(0.757,1)" font-size="9.8" font-weight="normal" font-style="normal" text-anchor="start" fill="#2b2b2a" stroke="#2b2b2a" stroke-width="0.22">AK11186</text>
<path d="M787.0,382.4 L774.0,388.0" fill="none" stroke="#4a4a49" stroke-width="0.65"/>
<rect x="787.20" y="369.20" width="6.6" height="25.2" fill="#e8941a"/>
<text transform="translate(797.80,376.20) scale(0.692,1)" font-size="10.3" font-weight="bold" font-style="normal" text-anchor="start" fill="#1d1d1b" stroke="#1d1d1b" stroke-width="0.42">CLEAR ORANGE</text>
<text transform="translate(797.80,385.30) scale(0.757,1)" font-size="9.8" font-weight="normal" font-style="normal" text-anchor="start" fill="#2b2b2a" stroke="#2b2b2a" stroke-width="0.22">RC506</text>
<text transform="translate(797.80,394.20) scale(0.757,1)" font-size="9.8" font-weight="normal" font-style="normal" text-anchor="start" fill="#2b2b2a" stroke="#2b2b2a" stroke-width="0.22">AK11218</text>
<path d="M388.0,447.0 L413.0,390.0" fill="none" stroke="#4a4a49" stroke-width="0.65"/>
<rect x="384.40" y="447.00" width="6.6" height="25.2" fill="#e8941a"/>
<text transform="translate(380.20,454.00) scale(0.692,1)" font-size="10.3" font-weight="bold" font-style="normal" text-anchor="end" fill="#1d1d1b" stroke="#1d1d1b" stroke-width="0.42">CLEAR ORANGE</text>
<text transform="translate(380.20,463.10) scale(0.757,1)" font-size="9.8" font-weight="normal" font-style="normal" text-anchor="end" fill="#2b2b2a" stroke="#2b2b2a" stroke-width="0.22">RC506</text>
<text transform="translate(380.20,472.00) scale(0.757,1)" font-size="9.8" font-weight="normal" font-style="normal" text-anchor="end" fill="#2b2b2a" stroke="#2b2b2a" stroke-width="0.22">AK11218</text>
<path d="M391.0,494.0 L452.4,470.4" fill="none" stroke="#4a4a49" stroke-width="0.65"/>
<rect x="384.40" y="484.20" width="6.6" height="25.2" fill="#646464"/>
<text transform="translate(380.20,491.20) scale(0.692,1)" font-size="10.3" font-weight="bold" font-style="normal" text-anchor="end" fill="#1d1d1b" stroke="#1d1d1b" stroke-width="0.42">TIRE BLACK</text>
<text transform="translate(380.20,500.30) scale(0.757,1)" font-size="9.8" font-weight="normal" font-style="normal" text-anchor="end" fill="#2b2b2a" stroke="#2b2b2a" stroke-width="0.22">RC022</text>
<text transform="translate(380.20,509.20) scale(0.757,1)" font-size="9.8" font-weight="normal" font-style="normal" text-anchor="end" fill="#2b2b2a" stroke="#2b2b2a" stroke-width="0.22">AK11027</text>
<path d="M790.5,478.4 L793.6,454.0" fill="none" stroke="#4a4a49" stroke-width="0.65"/>
<rect x="787.20" y="478.40" width="6.6" height="25.2" fill="#3c3c3b"/>
<text transform="translate(797.80,485.40) scale(0.692,1)" font-size="10.3" font-weight="bold" font-style="normal" text-anchor="start" fill="#1d1d1b" stroke="#1d1d1b" stroke-width="0.42">FLAT BLACK</text>
<text transform="translate(797.80,494.50) scale(0.757,1)" font-size="9.8" font-weight="normal" font-style="normal" text-anchor="start" fill="#2b2b2a" stroke="#2b2b2a" stroke-width="0.22">RC001</text>
<text transform="translate(797.80,503.40) scale(0.757,1)" font-size="9.8" font-weight="normal" font-style="normal" text-anchor="start" fill="#2b2b2a" stroke="#2b2b2a" stroke-width="0.22">AK11029</text>
<path d="M529.3,509.6 L488.6,617.0" fill="none" stroke="#4a4a49" stroke-width="0.65"/>
<rect x="526.00" y="484.40" width="6.6" height="25.2" fill="#969ea2"/>
<text transform="translate(536.60,491.40) scale(0.692,1)" font-size="10.3" font-weight="bold" font-style="normal" text-anchor="start" fill="#1d1d1b" stroke="#1d1d1b" stroke-width="0.42">MATTE</text>
<text transform="translate(536.60,500.50) scale(0.692,1)" font-size="10.3" font-weight="bold" font-style="normal" text-anchor="start" fill="#1d1d1b" stroke="#1d1d1b" stroke-width="0.42">ALUMINIUM</text>
<text transform="translate(536.60,509.40) scale(0.757,1)" font-size="9.8" font-weight="normal" font-style="normal" text-anchor="start" fill="#2b2b2a" stroke="#2b2b2a" stroke-width="0.22">AK488</text>
<path d="M363.7,630.0 L383.2,630.0" fill="none" stroke="#4a4a49" stroke-width="0.65"/>
<rect x="357.10" y="618.40" width="6.6" height="25.2" fill="#132c62"/>
<text transform="translate(352.90,625.40) scale(0.692,1)" font-size="10.3" font-weight="bold" font-style="normal" text-anchor="end" fill="#1d1d1b" stroke="#1d1d1b" stroke-width="0.42">DARK BLUE</text>
<text transform="translate(352.90,634.50) scale(0.757,1)" font-size="9.8" font-weight="normal" font-style="normal" text-anchor="end" fill="#2b2b2a" stroke="#2b2b2a" stroke-width="0.22">RC011</text>
<text transform="translate(352.90,643.40) scale(0.757,1)" font-size="9.8" font-weight="normal" font-style="normal" text-anchor="end" fill="#2b2b2a" stroke="#2b2b2a" stroke-width="0.22">AK11186</text>
<path d="M622.7,626.4 L632.8,648.0" fill="none" stroke="#4a4a49" stroke-width="0.65"/>
<path d="M622.7,626.4 L655.2,654.9" fill="none" stroke="#4a4a49" stroke-width="0.65"/>
<rect x="616.00" y="613.60" width="6.6" height="25.2" fill="#be1622"/>
<text transform="translate(611.80,620.60) scale(0.692,1)" font-size="10.3" font-weight="bold" font-style="normal" text-anchor="end" fill="#1d1d1b" stroke="#1d1d1b" stroke-width="0.42">CLEAR RED</text>
<text transform="translate(611.80,629.70) scale(0.757,1)" font-size="9.8" font-weight="normal" font-style="normal" text-anchor="end" fill="#2b2b2a" stroke="#2b2b2a" stroke-width="0.22">RC503</text>
<text transform="translate(611.80,638.60) scale(0.757,1)" font-size="9.8" font-weight="normal" font-style="normal" text-anchor="end" fill="#2b2b2a" stroke="#2b2b2a" stroke-width="0.22">AK11213</text>
<path d="M622.7,670.4 L644.0,658.4" fill="none" stroke="#4a4a49" stroke-width="0.65"/>
<rect x="616.00" y="658.40" width="6.6" height="25.2" fill="#e8941a"/>
<text transform="translate(611.80,665.40) scale(0.692,1)" font-size="10.3" font-weight="bold" font-style="normal" text-anchor="end" fill="#1d1d1b" stroke="#1d1d1b" stroke-width="0.42">CLEAR ORANGE</text>
<text transform="translate(611.80,674.50) scale(0.757,1)" font-size="9.8" font-weight="normal" font-style="normal" text-anchor="end" fill="#2b2b2a" stroke="#2b2b2a" stroke-width="0.22">RC506</text>
<text transform="translate(611.80,683.40) scale(0.757,1)" font-size="9.8" font-weight="normal" font-style="normal" text-anchor="end" fill="#2b2b2a" stroke="#2b2b2a" stroke-width="0.22">AK11218</text>
<path d="M701.7,703.2 L721.2,599.2" fill="none" stroke="#4a4a49" stroke-width="0.65"/>
<rect x="698.40" y="703.20" width="6.6" height="24.2" fill="#b2b2b2"/>
<text transform="translate(709.00,714.60) scale(0.692,1)" font-size="10.3" font-weight="bold" font-style="normal" text-anchor="start" fill="#1d1d1b" stroke="#1d1d1b" stroke-width="0.42">STEEL</text>
<text transform="translate(709.00,723.30) scale(0.757,1)" font-size="9.8" font-weight="normal" font-style="normal" text-anchor="start" fill="#2b2b2a" stroke="#2b2b2a" stroke-width="0.22">AK476</text>
<path d="M381.0,744.0 L429.3,667.7" fill="none" stroke="#4a4a49" stroke-width="0.65"/>
<path d="M380.0,769.0 L372.0,817.0" fill="none" stroke="#4a4a49" stroke-width="0.65"/>
<rect x="378.00" y="744.00" width="6.6" height="25.2" fill="#3c3c3b"/>
<text transform="translate(373.80,751.00) scale(0.692,1)" font-size="10.3" font-weight="bold" font-style="normal" text-anchor="end" fill="#1d1d1b" stroke="#1d1d1b" stroke-width="0.42">FLAT BLACK</text>
<text transform="translate(373.80,760.10) scale(0.757,1)" font-size="9.8" font-weight="normal" font-style="normal" text-anchor="end" fill="#2b2b2a" stroke="#2b2b2a" stroke-width="0.22">RC001</text>
<text transform="translate(373.80,769.00) scale(0.757,1)" font-size="9.8" font-weight="normal" font-style="normal" text-anchor="end" fill="#2b2b2a" stroke="#2b2b2a" stroke-width="0.22">AK11029</text>
<path d="M446.0,761.6 L406.4,802.0" fill="none" stroke="#4a4a49" stroke-width="0.65"/>
<path d="M446.0,761.6 L453.6,834.0" fill="none" stroke="#4a4a49" stroke-width="0.65"/>
<rect x="442.60" y="737.00" width="6.6" height="24.6" fill="#b2b2b2"/>
<text transform="translate(438.40,748.40) scale(0.692,1)" font-size="10.3" font-weight="bold" font-style="normal" text-anchor="end" fill="#1d1d1b" stroke="#1d1d1b" stroke-width="0.42">STEEL</text>
<text transform="translate(438.40,757.10) scale(0.757,1)" font-size="9.8" font-weight="normal" font-style="normal" text-anchor="end" fill="#2b2b2a" stroke="#2b2b2a" stroke-width="0.22">AK476</text>
<path d="M488.4,761.6 L489.6,779.0" fill="none" stroke="#4a4a49" stroke-width="0.65"/>
<rect x="485.00" y="737.00" width="6.6" height="24.6" fill="#e6dcc8"/>
<text transform="translate(495.60,744.00) scale(0.692,1)" font-size="10.3" font-weight="bold" font-style="normal" text-anchor="start" fill="#1d1d1b" stroke="#1d1d1b" stroke-width="0.42">CREAM</text>
<text transform="translate(495.60,753.10) scale(0.757,1)" font-size="9.8" font-weight="normal" font-style="normal" text-anchor="start" fill="#2b2b2a" stroke="#2b2b2a" stroke-width="0.22">RC002</text>
<text transform="translate(495.60,762.00) scale(0.757,1)" font-size="9.8" font-weight="normal" font-style="normal" text-anchor="start" fill="#2b2b2a" stroke="#2b2b2a" stroke-width="0.22">AK11032</text>
<path d="M793.6,788.4 L753.0,811.0" fill="none" stroke="#4a4a49" stroke-width="0.65"/>
<rect x="793.80" y="774.20" width="6.6" height="25.2" fill="#fff" stroke="#1d1d1b" stroke-width="0.7"/>
<text transform="translate(804.40,781.20) scale(0.692,1)" font-size="10.3" font-weight="bold" font-style="normal" text-anchor="start" fill="#1d1d1b" stroke="#1d1d1b" stroke-width="0.42">WHITE</text>
<text transform="translate(804.40,790.30) scale(0.757,1)" font-size="9.8" font-weight="normal" font-style="normal" text-anchor="start" fill="#2b2b2a" stroke="#2b2b2a" stroke-width="0.22">RC004</text>
<text transform="translate(804.40,799.20) scale(0.757,1)" font-size="9.8" font-weight="normal" font-style="normal" text-anchor="start" fill="#2b2b2a" stroke="#2b2b2a" stroke-width="0.22">AK11001</text>
<path d="M658.9,45.5 L658.9,86.4" fill="none" stroke="#4a4a49" stroke-width="0.65"/>
<path d="M647.7,25.7 L670.1,25.7 L658.9,45.9 Z" fill="#fff" stroke="#1d1d1b" stroke-width="0.8"/>
<text x="658.9" y="36.9" font-size="8.6" font-weight="bold" text-anchor="middle" fill="#1d1d1b">8</text>
<path d="M710.6,46.0 L710.6,126.4" fill="none" stroke="#4a4a49" stroke-width="0.65"/>
<path d="M699.4,26.0 L721.8,26.0 L710.6,46.2 Z" fill="#fff" stroke="#1d1d1b" stroke-width="0.8"/>
<text x="710.6" y="37.2" font-size="8.6" font-weight="bold" text-anchor="middle" fill="#1d1d1b">12</text>
<path d="M563.5,168.0 L563.5,246.4" fill="none" stroke="#4a4a49" stroke-width="0.65"/>
<path d="M552.3,246.4 L574.7,246.4 L563.5,266.6 Z" fill="#fff" stroke="#1d1d1b" stroke-width="0.8"/>
<text x="563.5" y="257.6" font-size="8.6" font-weight="bold" text-anchor="middle" fill="#1d1d1b">5</text>
<path d="M443.6,280.0 L443.6,359.0" fill="none" stroke="#4a4a49" stroke-width="0.65"/>
<path d="M432.4,259.6 L454.8,259.6 L443.6,279.8 Z" fill="#fff" stroke="#1d1d1b" stroke-width="0.8"/>
<text x="443.6" y="270.8" font-size="8.6" font-weight="bold" text-anchor="middle" fill="#1d1d1b">12</text>
<path d="M505.4,280.0 L505.4,316.5" fill="none" stroke="#4a4a49" stroke-width="0.65"/>
<path d="M494.2,259.6 L516.6,259.6 L505.4,279.8 Z" fill="#fff" stroke="#1d1d1b" stroke-width="0.8"/>
<text x="505.4" y="270.8" font-size="8.6" font-weight="bold" text-anchor="middle" fill="#1d1d1b">9</text>
<path d="M611.4,412.0 L611.4,480.0" fill="none" stroke="#4a4a49" stroke-width="0.65"/>
<path d="M600.2,480.0 L622.6,480.0 L611.4,500.2 Z" fill="#fff" stroke="#1d1d1b" stroke-width="0.8"/>
<text x="611.4" y="491.2" font-size="8.6" font-weight="bold" text-anchor="middle" fill="#1d1d1b">5</text>
<path d="M689.4,513.6 L689.4,554.0" fill="none" stroke="#4a4a49" stroke-width="0.65"/>
<path d="M678.2,493.4 L700.6,493.4 L689.4,513.6 Z" fill="#fff" stroke="#1d1d1b" stroke-width="0.8"/>
<text x="689.4" y="504.6" font-size="8.6" font-weight="bold" text-anchor="middle" fill="#1d1d1b">10</text>
<path d="M750.6,513.6 L750.6,553.0" fill="none" stroke="#4a4a49" stroke-width="0.65"/>
<path d="M739.4,493.4 L761.8,493.4 L750.6,513.6 Z" fill="#fff" stroke="#1d1d1b" stroke-width="0.8"/>
<text x="750.6" y="504.6" font-size="8.6" font-weight="bold" text-anchor="middle" fill="#1d1d1b">11</text>
<path d="M811.2,636.0 L753.6,602.5" fill="none" stroke="#4a4a49" stroke-width="0.65"/>
<path d="M810.8,633.0 L833.2,633.0 L822.0,653.2 Z" fill="#fff" stroke="#1d1d1b" stroke-width="0.8"/>
<text x="822.0" y="644.2" font-size="8.6" font-weight="bold" text-anchor="middle" fill="#1d1d1b">6</text>
<path d="M416.0,878.0 L416.0,952.6" fill="none" stroke="#4a4a49" stroke-width="0.65"/>
<path d="M404.8,952.6 L427.2,952.6 L416.0,972.8 Z" fill="#fff" stroke="#1d1d1b" stroke-width="0.8"/>
<text x="416.0" y="963.8" font-size="8.6" font-weight="bold" text-anchor="middle" fill="#1d1d1b">6</text>
<path d="M438.0,895.0 L438.0,952.6" fill="none" stroke="#4a4a49" stroke-width="0.65"/>
<path d="M426.8,952.6 L449.2,952.6 L438.0,972.8 Z" fill="#fff" stroke="#1d1d1b" stroke-width="0.8"/>
<text x="438.0" y="963.8" font-size="8.6" font-weight="bold" text-anchor="middle" fill="#1d1d1b">7</text>
<path d="M612.5,757.6 L612.5,835.7" fill="none" stroke="#4a4a49" stroke-width="0.65"/>
<path d="M601.3,737.4 L623.7,737.4 L612.5,757.6 Z" fill="#fff" stroke="#1d1d1b" stroke-width="0.8"/>
<text x="612.5" y="748.6" font-size="8.6" font-weight="bold" text-anchor="middle" fill="#1d1d1b">14</text>
<path d="M704.4,757.6 L704.4,836.4" fill="none" stroke="#4a4a49" stroke-width="0.65"/>
<path d="M693.2,737.4 L715.6,737.4 L704.4,757.6 Z" fill="#fff" stroke="#1d1d1b" stroke-width="0.8"/>
<text x="704.4" y="748.6" font-size="8.6" font-weight="bold" text-anchor="middle" fill="#1d1d1b">13</text>
</svg></body></html>
